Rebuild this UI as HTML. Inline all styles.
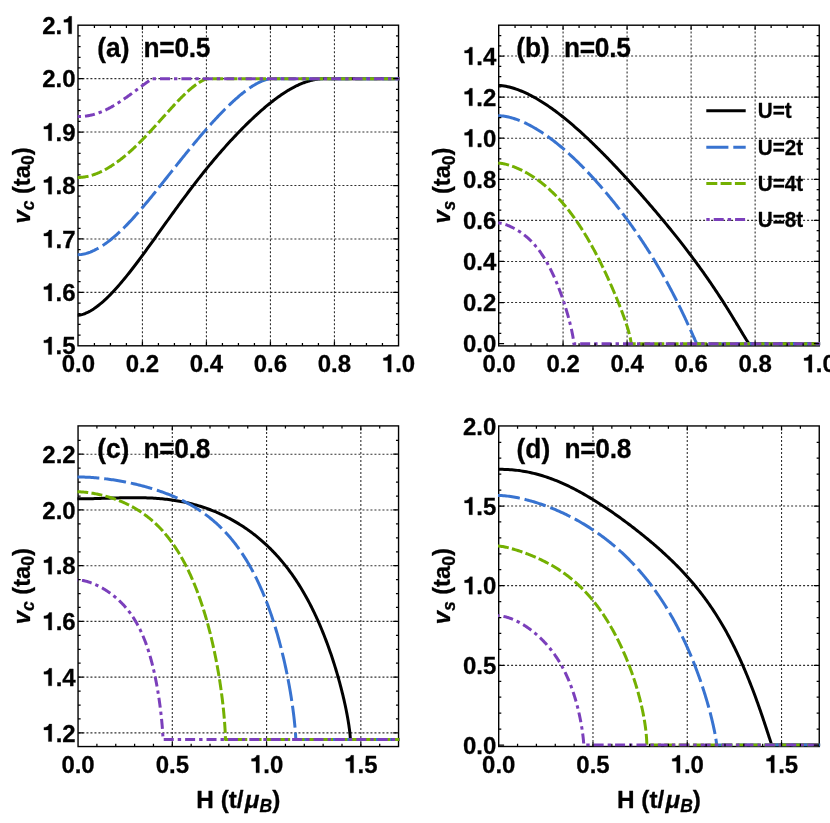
<!DOCTYPE html>
<html><head><meta charset="utf-8"><title>Velocities vs magnetic field</title>
<style>
html,body{margin:0;padding:0;background:#fff;}
body{width:830px;height:823px;overflow:hidden;}
svg{display:block;font-family:"Liberation Sans", sans-serif;fill:#000;}
text,.g1{stroke:#000;stroke-width:0.3px;stroke-linejoin:round;}
</style></head>
<body>
<svg width="830" height="823" viewBox="0 0 830 823">
<rect width="830" height="823" fill="#fff"/>
<g opacity="0.999">
<g>
<path d="M142.43 345.8V25.2M206.43 345.8V25.2M270.44 345.8V25.2M334.44 345.8V25.2" fill="none" stroke="#303030" stroke-width="1.1" stroke-dasharray="2 2" stroke-dashoffset="-0.5"/>
<path d="M78 292.37H398.55M78 238.93H398.55M78 185.5H398.55M78 132.07H398.55M78 78.63H398.55" fill="none" stroke="#303030" stroke-width="1.1" stroke-dasharray="2 2" stroke-dashoffset="-0.4"/>
<rect x="78" y="25.2" width="320.55" height="320.6" fill="none" stroke="#000" stroke-width="1.4"/>
<clipPath id="cpa"><rect x="77.2" y="25.2" width="322.25" height="320.6"/></clipPath>
<g clip-path="url(#cpa)" fill="none" stroke-width="3.0" stroke-linejoin="round">
<path d="M77.62 315.22L78.42 315.22L80.13 315.03L81.84 314.64L83.55 314.12L85.25 313.48L86.94 312.73L88.63 311.89L90.31 310.97L91.99 309.97L93.66 308.89L95.32 307.74L96.99 306.53L98.64 305.25L100.29 303.92L101.94 302.53L103.58 301.09L105.21 299.59L106.84 298.06L108.46 296.48L110.08 294.85L111.69 293.19L113.3 291.5L114.9 289.76L116.5 288L118.09 286.21L119.68 284.38L121.26 282.54L122.83 280.66L124.4 278.77L125.97 276.85L127.53 274.92L129.08 272.97L130.63 271L132.17 269.02L133.71 267.02L135.24 265.02L136.76 263L138.28 260.98L139.8 258.95L141.31 256.92L142.81 254.88L144.31 252.83L145.8 250.79L147.29 248.74L148.77 246.69L150.25 244.65L151.72 242.6L153.19 240.56L154.65 238.53L156.1 236.5L157.55 234.47L159 232.45L160.43 230.44L161.87 228.43L163.29 226.44L164.71 224.45L166.13 222.47L167.54 220.5L168.94 218.55L170.34 216.6L171.74 214.67L173.12 212.75L174.51 210.84L175.88 208.94L177.26 207.06L178.62 205.19L179.98 203.33L181.33 201.49L182.68 199.67L184.03 197.86L185.36 196.06L186.69 194.28L188.02 192.51L189.34 190.76L190.66 189.03L191.96 187.31L193.27 185.61L194.57 183.92L195.86 182.25L197.14 180.59L198.42 178.95L199.7 177.33L200.97 175.72L202.23 174.13L203.49 172.55L204.74 170.99L205.99 169.45L207.23 167.92L208.46 166.41L209.69 164.92L210.91 163.44L212.13 161.97L213.34 160.52L214.55 159.09L215.75 157.67L216.94 156.27L218.13 154.88L219.31 153.51L220.49 152.16L221.66 150.81L222.83 149.49L223.99 148.18L225.14 146.88L226.29 145.6L227.43 144.33L228.56 143.08L229.69 141.84L230.82 140.61L231.94 139.4L233.05 138.21L234.16 137.03L235.26 135.86L236.35 134.7L237.44 133.56L238.52 132.44L239.6 131.32L240.67 130.22L241.73 129.14L242.79 128.06L243.84 127L244.89 125.96L245.93 124.93L246.97 123.91L247.99 122.9L249.02 121.91L250.03 120.93L251.04 119.96L252.05 119L253.05 118.06L254.04 117.13L255.03 116.22L256.01 115.32L256.98 114.43L257.95 113.55L258.91 112.68L259.86 111.83L260.81 110.99L261.76 110.16L262.69 109.35L263.63 108.55L264.55 107.76L265.47 106.98L266.38 106.22L267.29 105.46L268.19 104.73L269.08 104L269.97 103.28L270.85 102.58L271.72 101.89L272.59 101.21L273.46 100.54L274.31 99.89L275.16 99.25L276 98.62L276.84 98L277.67 97.4L278.5 96.8L279.31 96.22L280.13 95.65L280.93 95.09L281.73 94.54L282.52 94.01L283.31 93.49L284.09 92.97L284.86 92.47L285.63 91.98L286.39 91.51L287.14 91.04L287.89 90.58L288.63 90.14L289.36 89.71L290.09 89.28L290.81 88.87L291.52 88.47L292.23 88.08L292.93 87.7L293.63 87.33L294.31 86.97L294.99 86.62L295.67 86.28L296.34 85.95L297 85.64L297.65 85.33L298.3 85.03L298.94 84.73L299.57 84.45L300.2 84.18L300.82 83.92L301.43 83.66L302.04 83.42L302.64 83.18L303.23 82.95L303.82 82.73L304.39 82.52L304.97 82.31L305.53 82.11L306.09 81.92L306.64 81.74L307.18 81.57L307.72 81.4L308.25 81.24L308.77 81.08L309.29 80.94L309.79 80.79L310.29 80.66L310.79 80.53L311.27 80.41L311.75 80.29L312.22 80.18L312.69 80.08L313.15 79.97L313.6 79.88L314.04 79.79L314.47 79.7L314.9 79.62L315.32 79.55L315.73 79.48L316.14 79.41L316.53 79.34L316.92 79.28L317.3 79.23L317.68 79.18L318.04 79.13L318.4 79.08L318.75 79.04L319.09 79L319.43 78.96L319.75 78.93L320.07 78.9L320.38 78.87L320.68 78.84L320.98 78.82L321.26 78.79L321.54 78.77L321.81 78.76L322.07 78.74L322.32 78.73L322.56 78.71L322.8 78.7L323.02 78.69L323.24 78.68L323.45 78.67L323.65 78.67L323.84 78.66L324.02 78.65L324.19 78.65L324.35 78.65L324.5 78.64L324.64 78.64L324.78 78.64L324.9 78.64L325.01 78.64L325.11 78.63L325.2 78.63L325.28 78.63L325.35 78.63L325.4 78.63L325.44 78.63L325.47 78.63L325.48 78.63L399.95 78.63" stroke="#000000"/>
<path d="M77.62 254.68L78.42 254.68L79.76 254.62L81.09 254.48L82.42 254.28L83.75 254.02L85.07 253.72L86.39 253.36L87.7 252.96L89.01 252.52L90.32 252.03L91.62 251.51L92.91 250.94L94.21 250.35L95.5 249.71L96.78 249.04L98.06 248.34L99.34 247.61L100.61 246.84L101.87 246.05L103.14 245.22L104.4 244.37L105.65 243.5L106.9 242.59L108.15 241.66L109.39 240.71L110.63 239.74L111.86 238.74L113.09 237.72L114.32 236.68L115.54 235.62L116.76 234.54L117.97 233.45L119.18 232.33L120.38 231.2L121.58 230.06L122.78 228.89L123.97 227.72L125.16 226.53L126.34 225.33L127.52 224.12L128.69 222.89L129.86 221.65L131.03 220.41L132.19 219.15L133.35 217.89L134.5 216.62L135.65 215.34L136.79 214.05L137.93 212.76L139.07 211.46L140.2 210.15L141.33 208.84L142.45 207.53L143.57 206.21L144.68 204.89L145.79 203.57L146.89 202.24L148 200.92L149.09 199.59L150.18 198.26L151.27 196.93L152.36 195.6L153.44 194.27L154.51 192.95L155.58 191.62L156.65 190.3L157.71 188.97L158.77 187.65L159.82 186.34L160.87 185.02L161.91 183.71L162.95 182.41L163.99 181.1L165.02 179.8L166.04 178.51L167.06 177.22L168.08 175.94L169.1 174.66L170.1 173.39L171.11 172.12L172.11 170.86L173.1 169.6L174.09 168.35L175.08 167.11L176.06 165.88L177.04 164.65L178.01 163.43L178.98 162.21L179.94 161.01L180.9 159.81L181.86 158.62L182.81 157.43L183.75 156.26L184.7 155.09L185.63 153.93L186.57 152.78L187.49 151.64L188.42 150.51L189.34 149.38L190.25 148.27L191.16 147.16L192.06 146.06L192.96 144.97L193.86 143.89L194.75 142.82L195.64 141.76L196.52 140.71L197.4 139.66L198.27 138.63L199.14 137.6L200 136.59L200.86 135.58L201.72 134.58L202.57 133.59L203.41 132.61L204.25 131.64L205.09 130.68L205.92 129.73L206.74 128.79L207.57 127.86L208.38 126.94L209.2 126.03L210 125.12L210.81 124.23L211.61 123.34L212.4 122.47L213.19 121.6L213.97 120.75L214.75 119.9L215.53 119.07L216.3 118.24L217.06 117.42L217.82 116.61L218.58 115.81L219.33 115.03L220.07 114.25L220.81 113.48L221.55 112.71L222.28 111.96L223.01 111.22L223.73 110.49L224.45 109.77L225.16 109.05L225.87 108.35L226.57 107.65L227.27 106.97L227.96 106.29L228.65 105.63L229.33 104.97L230.01 104.32L230.68 103.68L231.35 103.05L232.02 102.43L232.67 101.82L233.33 101.22L233.98 100.63L234.62 100.05L235.26 99.47L235.89 98.91L236.52 98.35L237.14 97.8L237.76 97.27L238.38 96.74L238.98 96.22L239.59 95.71L240.19 95.21L240.78 94.72L241.37 94.23L241.95 93.76L242.53 93.29L243.1 92.84L243.67 92.39L244.23 91.95L244.79 91.52L245.34 91.1L245.89 90.69L246.43 90.28L246.97 89.89L247.5 89.5L248.03 89.12L248.55 88.75L249.06 88.39L249.57 88.04L250.08 87.69L250.58 87.35L251.07 87.02L251.56 86.7L252.05 86.39L252.53 86.09L253 85.79L253.47 85.5L253.93 85.22L254.39 84.95L254.84 84.68L255.28 84.42L255.73 84.17L256.16 83.93L256.59 83.69L257.01 83.46L257.43 83.24L257.85 83.02L258.25 82.81L258.66 82.61L259.05 82.42L259.44 82.23L259.83 82.05L260.21 81.87L260.58 81.7L260.95 81.54L261.31 81.38L261.67 81.23L262.02 81.09L262.37 80.95L262.71 80.81L263.04 80.69L263.37 80.56L263.69 80.45L264 80.33L264.31 80.23L264.62 80.12L264.92 80.03L265.21 79.93L265.49 79.84L265.77 79.76L266.05 79.68L266.31 79.6L266.57 79.53L266.83 79.46L267.08 79.4L267.32 79.34L267.56 79.28L267.78 79.23L268.01 79.18L268.22 79.13L268.43 79.08L268.64 79.04L268.83 79L269.02 78.97L269.21 78.93L269.38 78.9L269.55 78.87L269.71 78.85L269.87 78.82L270.02 78.8L270.16 78.78L270.29 78.76L270.42 78.74L270.54 78.72L270.65 78.71L270.75 78.7L270.85 78.68L270.93 78.67L271.01 78.66L271.08 78.66L271.14 78.65L271.2 78.64L271.24 78.64L271.27 78.64L271.29 78.63L271.3 78.63L399.95 78.63" stroke="#3873d0" stroke-dasharray="22.1 4.9"/>
<path d="M77.62 177.45L78.42 177.45L79.31 177.44L80.2 177.4L81.09 177.34L81.97 177.27L82.86 177.17L83.73 177.06L84.61 176.93L85.48 176.78L86.35 176.62L87.22 176.45L88.09 176.26L88.95 176.05L89.81 175.83L90.67 175.6L91.52 175.35L92.37 175.1L93.22 174.82L94.06 174.54L94.91 174.24L95.75 173.94L96.58 173.62L97.42 173.28L98.25 172.94L99.08 172.59L99.9 172.22L100.73 171.85L101.55 171.46L102.36 171.07L103.18 170.66L103.99 170.25L104.8 169.82L105.61 169.39L106.41 168.94L107.21 168.49L108.01 168.03L108.8 167.56L109.59 167.08L110.38 166.6L111.17 166.11L111.95 165.6L112.73 165.1L113.51 164.58L114.28 164.06L115.06 163.53L115.82 162.99L116.59 162.44L117.35 161.89L118.11 161.34L118.87 160.77L119.63 160.2L120.38 159.63L121.13 159.05L121.87 158.46L122.62 157.87L123.36 157.28L124.09 156.68L124.83 156.07L125.56 155.46L126.29 154.85L127.01 154.23L127.74 153.6L128.46 152.98L129.17 152.35L129.89 151.71L130.6 151.07L131.31 150.43L132.01 149.79L132.71 149.14L133.41 148.49L134.11 147.84L134.8 147.18L135.49 146.53L136.18 145.87L136.86 145.21L137.55 144.54L138.22 143.88L138.9 143.21L139.57 142.54L140.24 141.87L140.91 141.2L141.57 140.53L142.23 139.86L142.89 139.19L143.55 138.51L144.2 137.84L144.85 137.16L145.49 136.49L146.14 135.82L146.78 135.14L147.41 134.47L148.05 133.79L148.68 133.12L149.31 132.45L149.93 131.78L150.55 131.11L151.17 130.44L151.79 129.77L152.4 129.1L153.01 128.44L153.62 127.78L154.22 127.11L154.82 126.45L155.42 125.8L156.01 125.14L156.6 124.49L157.19 123.84L157.78 123.19L158.36 122.54L158.94 121.9L159.52 121.26L160.09 120.62L160.66 119.98L161.22 119.35L161.79 118.72L162.35 118.1L162.91 117.48L163.46 116.86L164.01 116.24L164.56 115.63L165.11 115.02L165.65 114.42L166.19 113.82L166.72 113.23L167.25 112.63L167.78 112.05L168.31 111.46L168.83 110.89L169.35 110.31L169.87 109.74L170.38 109.18L170.89 108.62L171.4 108.06L171.9 107.51L172.41 106.97L172.9 106.43L173.4 105.89L173.89 105.36L174.38 104.83L174.86 104.31L175.34 103.8L175.82 103.29L176.3 102.78L176.77 102.28L177.24 101.79L177.7 101.3L178.16 100.82L178.62 100.34L179.08 99.87L179.53 99.4L179.98 98.94L180.43 98.49L180.87 98.04L181.31 97.6L181.74 97.16L182.18 96.73L182.6 96.3L183.03 95.88L183.45 95.47L183.87 95.06L184.29 94.65L184.7 94.26L185.11 93.87L185.52 93.48L185.92 93.1L186.32 92.73L186.71 92.36L187.11 92L187.49 91.64L187.88 91.29L188.26 90.95L188.64 90.61L189.02 90.28L189.39 89.95L189.76 89.63L190.12 89.31L190.48 89L190.84 88.7L191.2 88.4L191.55 88.11L191.89 87.82L192.24 87.54L192.58 87.27L192.92 86.99L193.25 86.73L193.58 86.47L193.91 86.22L194.23 85.97L194.55 85.72L194.86 85.49L195.18 85.25L195.48 85.03L195.79 84.8L196.09 84.59L196.39 84.37L196.68 84.17L196.97 83.97L197.26 83.77L197.54 83.58L197.82 83.39L198.1 83.2L198.37 83.03L198.64 82.85L198.9 82.68L199.16 82.52L199.42 82.36L199.67 82.2L199.92 82.05L200.17 81.9L200.41 81.76L200.65 81.62L200.88 81.49L201.11 81.36L201.34 81.23L201.56 81.11L201.78 80.99L201.99 80.87L202.2 80.76L202.41 80.65L202.61 80.55L202.81 80.45L203.01 80.35L203.2 80.25L203.38 80.16L203.57 80.07L203.74 79.99L203.92 79.91L204.09 79.83L204.25 79.75L204.42 79.68L204.57 79.61L204.73 79.55L204.87 79.48L205.02 79.42L205.16 79.36L205.29 79.3L205.43 79.25L205.55 79.2L205.67 79.15L205.79 79.1L205.9 79.06L206.01 79.02L206.12 78.98L206.22 78.94L206.31 78.91L206.4 78.87L206.48 78.84L206.56 78.81L206.64 78.79L206.7 78.76L206.77 78.74L206.83 78.72L206.88 78.7L206.93 78.68L206.97 78.67L207 78.66L207.03 78.65L207.05 78.64L207.07 78.64L207.07 78.63L399.95 78.63" stroke="#74b000" stroke-dasharray="11 3.3"/>
<path d="M77.62 116.57L78.42 116.57L78.93 116.57L79.44 116.56L79.95 116.55L80.46 116.53L80.97 116.51L81.47 116.49L81.98 116.46L82.48 116.42L82.98 116.38L83.48 116.34L83.98 116.29L84.47 116.24L84.96 116.18L85.46 116.12L85.95 116.06L86.44 115.99L86.92 115.92L87.41 115.84L87.89 115.76L88.38 115.67L88.86 115.58L89.34 115.49L89.81 115.39L90.29 115.29L90.77 115.19L91.24 115.08L91.71 114.97L92.18 114.85L92.65 114.74L93.11 114.61L93.58 114.49L94.04 114.36L94.5 114.23L94.96 114.09L95.42 113.95L95.88 113.81L96.33 113.67L96.79 113.52L97.24 113.37L97.69 113.21L98.14 113.06L98.58 112.9L99.03 112.73L99.47 112.57L99.91 112.4L100.35 112.23L100.79 112.06L101.23 111.88L101.66 111.71L102.1 111.53L102.53 111.34L102.96 111.16L103.39 110.97L103.82 110.78L104.24 110.59L104.66 110.4L105.09 110.2L105.51 110.01L105.93 109.81L106.34 109.61L106.76 109.4L107.17 109.2L107.58 108.99L107.99 108.79L108.4 108.58L108.81 108.37L109.21 108.16L109.62 107.94L110.02 107.73L110.42 107.51L110.82 107.29L111.22 107.08L111.61 106.86L112 106.63L112.4 106.41L112.79 106.19L113.17 105.97L113.56 105.74L113.94 105.52L114.33 105.29L114.71 105.06L115.09 104.83L115.47 104.6L115.84 104.38L116.22 104.15L116.59 103.92L116.96 103.68L117.33 103.45L117.7 103.22L118.07 102.99L118.43 102.76L118.79 102.52L119.15 102.29L119.51 102.06L119.87 101.82L120.23 101.59L120.58 101.36L120.93 101.12L121.28 100.89L121.63 100.66L121.98 100.42L122.32 100.19L122.67 99.96L123.01 99.72L123.35 99.49L123.68 99.26L124.02 99.03L124.36 98.79L124.69 98.56L125.02 98.33L125.35 98.1L125.68 97.87L126 97.64L126.33 97.41L126.65 97.18L126.97 96.96L127.29 96.73L127.6 96.5L127.92 96.28L128.23 96.05L128.54 95.83L128.85 95.6L129.16 95.38L129.47 95.16L129.77 94.94L130.07 94.72L130.37 94.5L130.67 94.28L130.97 94.06L131.26 93.85L131.56 93.63L131.85 93.42L132.14 93.2L132.43 92.99L132.71 92.78L133 92.57L133.28 92.36L133.56 92.15L133.84 91.95L134.11 91.74L134.39 91.54L134.66 91.34L134.93 91.13L135.2 90.93L135.47 90.73L135.74 90.54L136 90.34L136.26 90.15L136.52 89.95L136.78 89.76L137.04 89.57L137.29 89.38L137.54 89.19L137.79 89.01L138.04 88.82L138.29 88.64L138.53 88.46L138.78 88.28L139.02 88.1L139.25 87.92L139.49 87.74L139.73 87.57L139.96 87.4L140.19 87.22L140.42 87.05L140.65 86.89L140.87 86.72L141.1 86.55L141.32 86.39L141.54 86.23L141.76 86.07L141.97 85.91L142.19 85.75L142.4 85.6L142.61 85.44L142.81 85.29L143.02 85.14L143.22 84.99L143.43 84.84L143.63 84.7L143.82 84.56L144.02 84.41L144.21 84.27L144.4 84.13L144.59 84L144.78 83.86L144.97 83.73L145.15 83.6L145.33 83.46L145.51 83.34L145.69 83.21L145.86 83.08L146.04 82.96L146.21 82.84L146.38 82.72L146.54 82.6L146.71 82.48L146.87 82.37L147.03 82.25L147.19 82.14L147.35 82.03L147.5 81.92L147.65 81.82L147.8 81.71L147.95 81.61L148.1 81.51L148.24 81.41L148.38 81.31L148.52 81.21L148.66 81.12L148.79 81.03L148.92 80.93L149.05 80.84L149.18 80.76L149.31 80.67L149.43 80.59L149.55 80.5L149.67 80.42L149.78 80.34L149.9 80.26L150.01 80.19L150.12 80.11L150.23 80.04L150.33 79.97L150.43 79.9L150.53 79.83L150.63 79.77L150.73 79.7L150.82 79.64L150.91 79.58L151 79.52L151.08 79.47L151.17 79.41L151.25 79.36L151.33 79.31L151.4 79.26L151.47 79.21L151.54 79.16L151.61 79.12L151.68 79.07L151.74 79.03L151.8 78.99L151.85 78.96L151.91 78.92L151.96 78.89L152.01 78.85L152.05 78.83L152.1 78.8L152.14 78.77L152.17 78.75L152.21 78.73L152.24 78.71L152.26 78.69L152.29 78.67L152.31 78.66L152.32 78.65L152.34 78.64L152.34 78.64L152.35 78.63L399.95 78.63" stroke="#7b3fbb" stroke-dasharray="3.4 4 10 4"/>
</g>
<path d="M94.42 345.8v-2.7M94.42 25.2v2.7M110.42 345.8v-2.7M110.42 25.2v2.7M126.42 345.8v-2.7M126.42 25.2v2.7M142.43 345.8v-4.6M142.43 25.2v4.6M158.43 345.8v-2.7M158.43 25.2v2.7M174.43 345.8v-2.7M174.43 25.2v2.7M190.43 345.8v-2.7M190.43 25.2v2.7M206.43 345.8v-4.6M206.43 25.2v4.6M222.43 345.8v-2.7M222.43 25.2v2.7M238.44 345.8v-2.7M238.44 25.2v2.7M254.44 345.8v-2.7M254.44 25.2v2.7M270.44 345.8v-4.6M270.44 25.2v4.6M286.44 345.8v-2.7M286.44 25.2v2.7M302.44 345.8v-2.7M302.44 25.2v2.7M318.44 345.8v-2.7M318.44 25.2v2.7M334.44 345.8v-4.6M334.44 25.2v4.6M350.45 345.8v-2.7M350.45 25.2v2.7M366.45 345.8v-2.7M366.45 25.2v2.7M382.45 345.8v-2.7M382.45 25.2v2.7M78 335.11h2.6M398.55 335.11h-2.6M78 324.43h2.6M398.55 324.43h-2.6M78 313.74h2.6M398.55 313.74h-2.6M78 303.05h2.6M398.55 303.05h-2.6M78 292.37h5.4M398.55 292.37h-5.4M78 281.68h2.6M398.55 281.68h-2.6M78 270.99h2.6M398.55 270.99h-2.6M78 260.31h2.6M398.55 260.31h-2.6M78 249.62h2.6M398.55 249.62h-2.6M78 238.93h5.4M398.55 238.93h-5.4M78 228.25h2.6M398.55 228.25h-2.6M78 217.56h2.6M398.55 217.56h-2.6M78 206.87h2.6M398.55 206.87h-2.6M78 196.19h2.6M398.55 196.19h-2.6M78 185.5h5.4M398.55 185.5h-5.4M78 174.81h2.6M398.55 174.81h-2.6M78 164.13h2.6M398.55 164.13h-2.6M78 153.44h2.6M398.55 153.44h-2.6M78 142.75h2.6M398.55 142.75h-2.6M78 132.07h5.4M398.55 132.07h-5.4M78 121.38h2.6M398.55 121.38h-2.6M78 110.69h2.6M398.55 110.69h-2.6M78 100.01h2.6M398.55 100.01h-2.6M78 89.32h2.6M398.55 89.32h-2.6M78 78.63h5.4M398.55 78.63h-5.4M78 67.95h2.6M398.55 67.95h-2.6M78 57.26h2.6M398.55 57.26h-2.6M78 46.57h2.6M398.55 46.57h-2.6M78 35.89h2.6M398.55 35.89h-2.6" fill="none" stroke="#000" stroke-width="1.25"/>
<g font-size="24" font-weight="bold">
<g transform="translate(78.42 372.1) scale(1 1.03)"><text x="-16.68 -3.34 3.34" y="0">0.0</text></g>
<g transform="translate(142.43 372.1) scale(1 1.03)"><text x="-16.68 -3.34 3.34" y="0">0.2</text></g>
<g transform="translate(206.43 372.1) scale(1 1.03)"><text x="-16.68 -3.34 3.34" y="0">0.4</text></g>
<g transform="translate(270.44 372.1) scale(1 1.03)"><text x="-16.68 -3.34 3.34" y="0">0.6</text></g>
<g transform="translate(334.44 372.1) scale(1 1.03)"><text x="-16.68 -3.34 3.34" y="0">0.8</text></g>
<g transform="translate(398.45 372.1) scale(1 1.03)"><text x="-3.34 3.34" y="0">.0</text><path class="g1" vector-effect="non-scaling-stroke" transform="translate(-16.68 0) scale(24)" d="M.394 0H.254V-.471H.068V-.573C.17-.575.266-.61.285-.709H.394Z"/></g>
<g transform="translate(75.6 354.45) scale(1 1.03)"><text x="-20.02 -13.34" y="0">.5</text><path class="g1" vector-effect="non-scaling-stroke" transform="translate(-33.36 0) scale(24)" d="M.394 0H.254V-.471H.068V-.573C.17-.575.266-.61.285-.709H.394Z"/></g>
<g transform="translate(75.6 301.02) scale(1 1.03)"><text x="-20.02 -13.34" y="0">.6</text><path class="g1" vector-effect="non-scaling-stroke" transform="translate(-33.36 0) scale(24)" d="M.394 0H.254V-.471H.068V-.573C.17-.575.266-.61.285-.709H.394Z"/></g>
<g transform="translate(75.6 247.58) scale(1 1.03)"><text x="-20.02 -13.34" y="0">.7</text><path class="g1" vector-effect="non-scaling-stroke" transform="translate(-33.36 0) scale(24)" d="M.394 0H.254V-.471H.068V-.573C.17-.575.266-.61.285-.709H.394Z"/></g>
<g transform="translate(75.6 194.15) scale(1 1.03)"><text x="-20.02 -13.34" y="0">.8</text><path class="g1" vector-effect="non-scaling-stroke" transform="translate(-33.36 0) scale(24)" d="M.394 0H.254V-.471H.068V-.573C.17-.575.266-.61.285-.709H.394Z"/></g>
<g transform="translate(75.6 140.72) scale(1 1.03)"><text x="-20.02 -13.34" y="0">.9</text><path class="g1" vector-effect="non-scaling-stroke" transform="translate(-33.36 0) scale(24)" d="M.394 0H.254V-.471H.068V-.573C.17-.575.266-.61.285-.709H.394Z"/></g>
<g transform="translate(75.6 87.28) scale(1 1.03)"><text x="-33.36 -20.02 -13.34" y="0">2.0</text></g>
<g transform="translate(75.6 33.85) scale(1 1.03)"><text x="-33.36 -20.02" y="0">2.</text><path class="g1" vector-effect="non-scaling-stroke" transform="translate(-13.34 0) scale(24)" d="M.394 0H.254V-.471H.068V-.573C.17-.575.266-.61.285-.709H.394Z"/></g>
</g>
<g font-size="26.3" font-weight="bold">
<text transform="translate(97.3 57.45) scale(1 1.03)">(a)</text>
<text transform="translate(143.6 57.45) scale(1 1.03)" letter-spacing="-0.3">n=0.5</text>
</g>
<text transform="translate(29.5 185.5) rotate(-90) scale(1 1.02)" text-anchor="middle" font-size="23.7" font-weight="bold"><tspan font-style="italic">v</tspan><tspan font-style="italic" font-size="17.5" dy="4.4">c</tspan><tspan dy="-4.4"> (ta</tspan><tspan font-size="17.5" dy="4.4">0</tspan><tspan dy="-4.4">)</tspan></text>
</g>
<g>
<path d="M563.07 345.9V25.2M627.09 345.9V25.2M691.11 345.9V25.2M755.13 345.9V25.2" fill="none" stroke="#303030" stroke-width="1.1" stroke-dasharray="2 2" stroke-dashoffset="-0.5"/>
<path d="M498.7 302.56H819.25M498.7 261.48H819.25M498.7 220.39H819.25M498.7 179.31H819.25M498.7 138.22H819.25M498.7 97.14H819.25M498.7 56.05H819.25" fill="none" stroke="#303030" stroke-width="1.1" stroke-dasharray="2 2" stroke-dashoffset="-0.4"/>
<rect x="498.7" y="25.2" width="320.55" height="320.7" fill="none" stroke="#000" stroke-width="1.4"/>
<clipPath id="cpb"><rect x="497.9" y="25.2" width="322.25" height="320.7"/></clipPath>
<g clip-path="url(#cpb)" fill="none" stroke-width="3.0" stroke-linejoin="round">
<path d="M498.25 85.53L499.05 85.53L500.78 85.61L502.51 85.78L504.24 86.02L505.96 86.32L507.67 86.67L509.38 87.07L511.08 87.52L512.78 88L514.47 88.53L516.16 89.09L517.84 89.69L519.51 90.33L521.18 91L522.85 91.7L524.51 92.43L526.16 93.19L527.81 93.97L529.45 94.79L531.09 95.63L532.72 96.5L534.35 97.39L535.97 98.3L537.59 99.24L539.2 100.2L540.8 101.18L542.4 102.18L544 103.2L545.58 104.24L547.17 105.29L548.75 106.37L550.32 107.46L551.88 108.57L553.44 109.69L555 110.83L556.55 111.98L558.09 113.15L559.63 114.33L561.17 115.52L562.69 116.73L564.22 117.95L565.73 119.18L567.24 120.42L568.75 121.67L570.25 122.93L571.74 124.2L573.23 125.48L574.72 126.77L576.19 128.06L577.67 129.37L579.13 130.68L580.59 131.99L582.05 133.32L583.5 134.65L584.94 135.99L586.38 137.33L587.81 138.68L589.24 140.03L590.66 141.38L592.08 142.75L593.49 144.11L594.89 145.48L596.29 146.85L597.68 148.22L599.07 149.6L600.45 150.98L601.83 152.36L603.2 153.75L604.57 155.13L605.92 156.52L607.28 157.91L608.63 159.3L609.97 160.69L611.3 162.08L612.63 163.47L613.96 164.86L615.28 166.25L616.59 167.64L617.9 169.03L619.2 170.42L620.5 171.81L621.79 173.2L623.07 174.59L624.35 175.97L625.62 177.36L626.89 178.74L628.15 180.12L629.4 181.51L630.65 182.88L631.9 184.26L633.14 185.64L634.37 187.01L635.59 188.38L636.81 189.75L638.03 191.12L639.24 192.48L640.44 193.85L641.64 195.21L642.83 196.56L644.01 197.92L645.19 199.27L646.36 200.62L647.53 201.97L648.69 203.31L649.85 204.65L651 205.99L652.14 207.32L653.28 208.66L654.41 209.99L655.54 211.31L656.66 212.64L657.77 213.96L658.88 215.27L659.98 216.59L661.07 217.9L662.16 219.21L663.25 220.51L664.32 221.81L665.4 223.11L666.46 224.41L667.52 225.7L668.57 226.99L669.62 228.27L670.66 229.55L671.7 230.83L672.72 232.11L673.75 233.38L674.76 234.65L675.77 235.92L676.78 237.18L677.78 238.44L678.77 239.69L679.75 240.95L680.73 242.19L681.71 243.44L682.67 244.68L683.63 245.92L684.59 247.16L685.54 248.39L686.48 249.62L687.42 250.84L688.34 252.06L689.27 253.28L690.19 254.49L691.1 255.7L692 256.91L692.9 258.11L693.79 259.31L694.68 260.51L695.55 261.7L696.43 262.89L697.29 264.07L698.15 265.25L699.01 266.43L699.85 267.6L700.69 268.76L701.53 269.93L702.36 271.09L703.18 272.24L703.99 273.39L704.8 274.53L705.6 275.68L706.4 276.81L707.19 277.94L707.97 279.07L708.75 280.19L709.51 281.31L710.28 282.42L711.03 283.53L711.78 284.63L712.52 285.72L713.26 286.81L713.99 287.9L714.71 288.98L715.43 290.05L716.14 291.12L716.84 292.18L717.54 293.23L718.23 294.28L718.91 295.32L719.58 296.36L720.25 297.38L720.91 298.41L721.57 299.42L722.22 300.43L722.86 301.43L723.49 302.42L724.12 303.41L724.74 304.39L725.35 305.36L725.96 306.32L726.56 307.27L727.15 308.22L727.74 309.15L728.32 310.08L728.89 311L729.45 311.91L730.01 312.81L730.56 313.7L731.1 314.59L731.64 315.46L732.17 316.32L732.69 317.17L733.2 318.02L733.71 318.85L734.21 319.67L734.7 320.48L735.19 321.28L735.66 322.07L736.13 322.85L736.59 323.61L737.05 324.37L737.5 325.11L737.94 325.84L738.37 326.56L738.79 327.27L739.21 327.96L739.62 328.64L740.02 329.31L740.42 329.96L740.8 330.61L741.18 331.24L741.55 331.85L741.91 332.45L742.27 333.04L742.61 333.61L742.95 334.17L743.28 334.72L743.6 335.25L743.92 335.76L744.22 336.26L744.52 336.75L744.81 337.22L745.09 337.67L745.36 338.11L745.63 338.53L745.88 338.94L746.13 339.33L746.36 339.71L746.59 340.07L746.81 340.41L747.02 340.74L747.22 341.04L747.41 341.34L747.6 341.61L747.77 341.87L747.93 342.11L748.09 342.34L748.23 342.55L748.37 342.74L748.49 342.91L748.6 343.06L748.7 343.2L748.8 343.32L748.87 343.42L748.94 343.5L749 343.57L749.04 343.61L749.07 343.64L749.08 343.65L820.65 343.65" stroke="#000000"/>
<path d="M498.25 115.78L499.05 115.78L500.42 115.83L501.79 115.94L503.15 116.09L504.51 116.28L505.87 116.51L507.22 116.77L508.56 117.07L509.91 117.4L511.25 117.75L512.58 118.13L513.91 118.54L515.23 118.97L516.55 119.43L517.87 119.9L519.18 120.41L520.49 120.93L521.79 121.47L523.09 122.04L524.39 122.62L525.68 123.23L526.97 123.85L528.25 124.49L529.53 125.14L530.8 125.82L532.07 126.51L533.33 127.22L534.59 127.94L535.85 128.67L537.1 129.43L538.35 130.19L539.59 130.97L540.83 131.77L542.07 132.57L543.3 133.39L544.52 134.22L545.74 135.07L546.96 135.92L548.17 136.79L549.38 137.67L550.58 138.56L551.78 139.45L552.98 140.36L554.17 141.28L555.36 142.21L556.54 143.15L557.71 144.1L558.89 145.05L560.06 146.02L561.22 146.99L562.38 147.97L563.53 148.96L564.69 149.96L565.83 150.96L566.97 151.97L568.11 152.99L569.24 154.01L570.37 155.04L571.5 156.08L572.62 157.12L573.73 158.17L574.84 159.22L575.95 160.28L577.05 161.35L578.15 162.42L579.24 163.5L580.33 164.58L581.41 165.66L582.49 166.75L583.57 167.84L584.64 168.94L585.7 170.04L586.76 171.15L587.82 172.26L588.87 173.37L589.92 174.49L590.96 175.6L592 176.73L593.04 177.85L594.07 178.98L595.09 180.11L596.11 181.25L597.13 182.39L598.14 183.52L599.14 184.67L600.15 185.81L601.14 186.96L602.14 188.11L603.12 189.26L604.11 190.41L605.09 191.56L606.06 192.72L607.03 193.88L608 195.04L608.96 196.2L609.91 197.36L610.86 198.52L611.81 199.69L612.75 200.85L613.69 202.02L614.62 203.19L615.55 204.36L616.47 205.53L617.39 206.7L618.3 207.87L619.21 209.04L620.12 210.22L621.02 211.39L621.91 212.57L622.8 213.74L623.69 214.92L624.57 216.09L625.44 217.27L626.31 218.44L627.18 219.62L628.04 220.8L628.9 221.97L629.75 223.15L630.6 224.33L631.44 225.5L632.28 226.68L633.11 227.86L633.94 229.03L634.76 230.21L635.58 231.38L636.39 232.56L637.2 233.73L638.01 234.91L638.8 236.08L639.6 237.25L640.39 238.42L641.17 239.6L641.95 240.77L642.73 241.94L643.5 243.1L644.26 244.27L645.02 245.44L645.78 246.6L646.53 247.77L647.27 248.93L648.01 250.09L648.75 251.25L649.48 252.41L650.2 253.57L650.92 254.72L651.64 255.88L652.35 257.03L653.05 258.18L653.75 259.33L654.45 260.47L655.14 261.62L655.82 262.76L656.5 263.9L657.18 265.04L657.85 266.17L658.51 267.3L659.17 268.43L659.83 269.56L660.48 270.68L661.12 271.8L661.76 272.92L662.39 274.03L663.02 275.15L663.65 276.25L664.27 277.36L664.88 278.46L665.49 279.55L666.09 280.65L666.69 281.74L667.28 282.82L667.87 283.9L668.45 284.98L669.03 286.05L669.6 287.12L670.16 288.18L670.72 289.24L671.28 290.29L671.83 291.34L672.38 292.38L672.91 293.42L673.45 294.45L673.98 295.47L674.5 296.49L675.02 297.51L675.53 298.51L676.04 299.51L676.54 300.51L677.04 301.5L677.53 302.48L678.01 303.45L678.49 304.42L678.97 305.38L679.44 306.33L679.9 307.28L680.36 308.21L680.81 309.14L681.25 310.06L681.69 310.98L682.13 311.88L682.56 312.78L682.98 313.66L683.4 314.54L683.81 315.41L684.22 316.27L684.62 317.12L685.02 317.96L685.4 318.79L685.79 319.61L686.16 320.42L686.54 321.22L686.9 322.01L687.26 322.79L687.62 323.56L687.96 324.31L688.31 325.06L688.64 325.79L688.97 326.51L689.29 327.22L689.61 327.92L689.92 328.61L690.23 329.28L690.53 329.94L690.82 330.59L691.11 331.22L691.39 331.84L691.66 332.45L691.93 333.05L692.19 333.63L692.44 334.19L692.69 334.75L692.93 335.28L693.17 335.81L693.4 336.31L693.62 336.81L693.84 337.29L694.04 337.75L694.25 338.2L694.44 338.63L694.63 339.04L694.81 339.44L694.98 339.83L695.15 340.19L695.31 340.54L695.46 340.87L695.6 341.19L695.74 341.49L695.87 341.77L695.99 342.03L696.1 342.27L696.21 342.5L696.31 342.71L696.4 342.89L696.48 343.06L696.55 343.21L696.61 343.34L696.67 343.44L696.71 343.53L696.74 343.59L696.77 343.63L696.78 343.65L820.65 343.65" stroke="#3873d0" stroke-dasharray="22.1 4.9"/>
<path d="M498.25 163.19L499.05 163.19L499.97 163.24L500.88 163.33L501.79 163.45L502.7 163.6L503.6 163.77L504.5 163.95L505.4 164.16L506.3 164.38L507.19 164.61L508.08 164.86L508.97 165.13L509.86 165.4L510.74 165.69L511.62 165.99L512.49 166.3L513.37 166.62L514.24 166.95L515.11 167.3L515.97 167.65L516.83 168.01L517.69 168.38L518.55 168.76L519.4 169.15L520.25 169.55L521.1 169.95L521.94 170.37L522.79 170.79L523.63 171.22L524.46 171.66L525.29 172.11L526.12 172.57L526.95 173.03L527.78 173.5L528.6 173.98L529.42 174.47L530.23 174.96L531.04 175.46L531.85 175.97L532.66 176.49L533.46 177.01L534.27 177.54L535.06 178.08L535.86 178.63L536.65 179.18L537.44 179.74L538.23 180.31L539.01 180.88L539.79 181.47L540.57 182.05L541.34 182.65L542.11 183.25L542.88 183.86L543.65 184.48L544.41 185.1L545.17 185.73L545.93 186.37L546.68 187.02L547.43 187.67L548.18 188.33L548.92 188.99L549.66 189.66L550.4 190.34L551.14 191.03L551.87 191.72L552.6 192.42L553.33 193.12L554.05 193.83L554.77 194.55L555.49 195.27L556.21 196L556.92 196.74L557.63 197.49L558.33 198.24L559.03 198.99L559.73 199.75L560.43 200.52L561.12 201.3L561.81 202.08L562.5 202.86L563.19 203.65L563.87 204.45L564.55 205.26L565.22 206.06L565.89 206.88L566.56 207.7L567.23 208.53L567.89 209.36L568.55 210.19L569.21 211.04L569.86 211.88L570.51 212.74L571.16 213.59L571.8 214.46L572.44 215.32L573.08 216.19L573.72 217.07L574.35 217.95L574.98 218.84L575.6 219.73L576.23 220.62L576.85 221.52L577.46 222.42L578.08 223.33L578.69 224.24L579.29 225.15L579.9 226.07L580.5 226.99L581.1 227.91L581.69 228.84L582.28 229.77L582.87 230.71L583.45 231.64L584.04 232.58L584.61 233.52L585.19 234.47L585.76 235.42L586.33 236.37L586.9 237.32L587.46 238.27L588.02 239.23L588.58 240.19L589.13 241.15L589.68 242.11L590.22 243.07L590.77 244.04L591.31 245L591.84 245.97L592.38 246.94L592.91 247.91L593.44 248.88L593.96 249.85L594.48 250.82L595 251.79L595.51 252.76L596.02 253.73L596.53 254.7L597.03 255.67L597.53 256.64L598.03 257.61L598.53 258.58L599.02 259.55L599.5 260.52L599.99 261.49L600.47 262.45L600.95 263.42L601.42 264.38L601.89 265.35L602.36 266.31L602.82 267.27L603.29 268.22L603.74 269.18L604.2 270.13L604.65 271.08L605.09 272.03L605.54 272.98L605.98 273.92L606.42 274.86L606.85 275.8L607.28 276.74L607.71 277.67L608.13 278.6L608.55 279.53L608.97 280.45L609.38 281.37L609.79 282.29L610.2 283.2L610.6 284.11L611 285.02L611.39 285.92L611.79 286.82L612.17 287.71L612.56 288.6L612.94 289.49L613.32 290.37L613.69 291.25L614.07 292.12L614.43 292.99L614.8 293.85L615.16 294.71L615.51 295.56L615.87 296.41L616.22 297.26L616.56 298.1L616.9 298.93L617.24 299.76L617.58 300.58L617.91 301.4L618.24 302.22L618.56 303.02L618.88 303.83L619.2 304.62L619.51 305.41L619.82 306.2L620.13 306.98L620.43 307.75L620.73 308.52L621.02 309.29L621.31 310.04L621.6 310.8L621.88 311.54L622.16 312.28L622.43 313.01L622.71 313.74L622.97 314.46L623.24 315.18L623.5 315.89L623.75 316.59L624.01 317.29L624.25 317.98L624.5 318.67L624.74 319.35L624.97 320.02L625.21 320.69L625.43 321.35L625.66 322L625.88 322.65L626.1 323.29L626.31 323.93L626.52 324.55L626.72 325.18L626.92 325.79L627.11 326.4L627.31 327.01L627.49 327.61L627.68 328.2L627.85 328.78L628.03 329.36L628.2 329.93L628.36 330.5L628.53 331.06L628.68 331.61L628.84 332.15L628.98 332.69L629.13 333.22L629.27 333.75L629.4 334.27L629.53 334.78L629.66 335.28L629.78 335.78L629.89 336.27L630 336.75L630.11 337.23L630.21 337.7L630.31 338.16L630.4 338.61L630.49 339.05L630.57 339.49L630.64 339.91L630.71 340.33L630.78 340.73L630.84 341.13L630.89 341.51L630.94 341.88L630.98 342.24L631.02 342.57L631.05 342.89L631.07 343.19L631.09 343.45L631.09 343.65L820.65 343.65" stroke="#74b000" stroke-dasharray="11 3.3"/>
<path d="M498.25 223.03L499.05 223.03L499.57 223.07L500.09 223.13L500.6 223.21L501.11 223.31L501.63 223.41L502.14 223.53L502.65 223.66L503.15 223.8L503.66 223.95L504.16 224.1L504.67 224.26L505.17 224.43L505.67 224.6L506.16 224.78L506.66 224.96L507.15 225.15L507.65 225.34L508.14 225.54L508.63 225.74L509.12 225.95L509.6 226.16L510.09 226.38L510.57 226.6L511.05 226.82L511.53 227.05L512.01 227.28L512.49 227.52L512.96 227.76L513.43 228L513.91 228.25L514.38 228.5L514.84 228.75L515.31 229.01L515.78 229.28L516.24 229.54L516.7 229.81L517.16 230.09L517.62 230.36L518.08 230.65L518.53 230.93L518.98 231.22L519.44 231.51L519.89 231.81L520.33 232.11L520.78 232.41L521.23 232.72L521.67 233.04L522.11 233.35L522.55 233.67L522.99 234L523.43 234.32L523.86 234.66L524.29 234.99L524.73 235.33L525.16 235.68L525.58 236.03L526.01 236.38L526.44 236.74L526.86 237.1L527.28 237.46L527.7 237.83L528.12 238.21L528.54 238.59L528.95 238.97L529.36 239.36L529.77 239.75L530.18 240.14L530.59 240.54L531 240.95L531.4 241.36L531.81 241.77L532.21 242.19L532.61 242.61L533 243.04L533.4 243.47L533.79 243.9L534.19 244.34L534.58 244.79L534.97 245.23L535.35 245.69L535.74 246.14L536.12 246.61L536.51 247.07L536.89 247.54L537.27 248.02L537.64 248.5L538.02 248.98L538.39 249.47L538.76 249.96L539.13 250.45L539.5 250.95L539.87 251.46L540.23 251.97L540.6 252.48L540.96 253L541.32 253.52L541.67 254.04L542.03 254.57L542.38 255.1L542.74 255.64L543.09 256.18L543.44 256.72L543.78 257.27L544.13 257.82L544.47 258.38L544.81 258.94L545.15 259.5L545.49 260.07L545.83 260.64L546.16 261.21L546.5 261.79L546.83 262.37L547.16 262.95L547.48 263.54L547.81 264.13L548.13 264.72L548.46 265.31L548.78 265.91L549.1 266.51L549.41 267.12L549.73 267.72L550.04 268.33L550.35 268.94L550.66 269.56L550.97 270.18L551.27 270.8L551.58 271.42L551.88 272.04L552.18 272.67L552.48 273.3L552.77 273.93L553.07 274.56L553.36 275.19L553.65 275.83L553.94 276.47L554.23 277.11L554.51 277.75L554.8 278.39L555.08 279.03L555.36 279.68L555.64 280.33L555.91 280.97L556.19 281.62L556.46 282.27L556.73 282.92L557 283.57L557.27 284.23L557.53 284.88L557.79 285.53L558.05 286.19L558.31 286.84L558.57 287.5L558.82 288.15L559.08 288.81L559.33 289.46L559.58 290.12L559.83 290.77L560.07 291.43L560.32 292.08L560.56 292.74L560.8 293.39L561.03 294.05L561.27 294.7L561.5 295.36L561.74 296.01L561.97 296.66L562.19 297.31L562.42 297.96L562.64 298.61L562.87 299.26L563.09 299.9L563.3 300.55L563.52 301.19L563.73 301.84L563.95 302.48L564.16 303.12L564.36 303.76L564.57 304.39L564.77 305.03L564.98 305.66L565.18 306.29L565.37 306.92L565.57 307.55L565.76 308.18L565.95 308.8L566.14 309.42L566.33 310.04L566.52 310.66L566.7 311.27L566.88 311.88L567.06 312.49L567.24 313.1L567.41 313.7L567.59 314.3L567.76 314.9L567.93 315.5L568.09 316.09L568.26 316.68L568.42 317.27L568.58 317.85L568.74 318.43L568.89 319.01L569.05 319.58L569.2 320.15L569.35 320.72L569.49 321.29L569.64 321.85L569.78 322.4L569.92 322.96L570.06 323.51L570.2 324.05L570.33 324.59L570.46 325.13L570.59 325.67L570.72 326.2L570.84 326.72L570.97 327.24L571.09 327.76L571.2 328.27L571.32 328.78L571.43 329.29L571.54 329.79L571.65 330.28L571.76 330.77L571.86 331.26L571.96 331.74L572.06 332.22L572.16 332.69L572.25 333.16L572.34 333.62L572.43 334.07L572.52 334.52L572.6 334.97L572.68 335.41L572.76 335.84L572.84 336.27L572.91 336.69L572.98 337.1L573.05 337.51L573.12 337.92L573.18 338.31L573.24 338.7L573.3 339.08L573.35 339.45L573.4 339.82L573.45 340.17L573.5 340.52L573.54 340.86L573.58 341.19L573.62 341.51L573.65 341.82L573.68 342.11L573.71 342.39L573.73 342.66L573.75 342.91L573.77 343.15L573.78 343.35L573.79 343.53L573.79 343.65L820.65 343.65" stroke="#7b3fbb" stroke-dasharray="3.4 4 10 4"/>
</g>
<path d="M515.06 345.9v-2.7M515.06 25.2v2.7M531.06 345.9v-2.7M531.06 25.2v2.7M547.07 345.9v-2.7M547.07 25.2v2.7M563.07 345.9v-4.6M563.07 25.2v4.6M579.08 345.9v-2.7M579.08 25.2v2.7M595.08 345.9v-2.7M595.08 25.2v2.7M611.09 345.9v-2.7M611.09 25.2v2.7M627.09 345.9v-4.6M627.09 25.2v4.6M643.1 345.9v-2.7M643.1 25.2v2.7M659.1 345.9v-2.7M659.1 25.2v2.7M675.11 345.9v-2.7M675.11 25.2v2.7M691.11 345.9v-4.6M691.11 25.2v4.6M707.12 345.9v-2.7M707.12 25.2v2.7M723.12 345.9v-2.7M723.12 25.2v2.7M739.12 345.9v-2.7M739.12 25.2v2.7M755.13 345.9v-4.6M755.13 25.2v4.6M771.13 345.9v-2.7M771.13 25.2v2.7M787.14 345.9v-2.7M787.14 25.2v2.7M803.14 345.9v-2.7M803.14 25.2v2.7M498.7 343.65h5.4M819.25 343.65h-5.4M498.7 333.38h2.6M819.25 333.38h-2.6M498.7 323.11h2.6M819.25 323.11h-2.6M498.7 312.84h2.6M819.25 312.84h-2.6M498.7 302.56h5.4M819.25 302.56h-5.4M498.7 292.29h2.6M819.25 292.29h-2.6M498.7 282.02h2.6M819.25 282.02h-2.6M498.7 271.75h2.6M819.25 271.75h-2.6M498.7 261.48h5.4M819.25 261.48h-5.4M498.7 251.21h2.6M819.25 251.21h-2.6M498.7 240.94h2.6M819.25 240.94h-2.6M498.7 230.66h2.6M819.25 230.66h-2.6M498.7 220.39h5.4M819.25 220.39h-5.4M498.7 210.12h2.6M819.25 210.12h-2.6M498.7 199.85h2.6M819.25 199.85h-2.6M498.7 189.58h2.6M819.25 189.58h-2.6M498.7 179.31h5.4M819.25 179.31h-5.4M498.7 169.04h2.6M819.25 169.04h-2.6M498.7 158.76h2.6M819.25 158.76h-2.6M498.7 148.49h2.6M819.25 148.49h-2.6M498.7 138.22h5.4M819.25 138.22h-5.4M498.7 127.95h2.6M819.25 127.95h-2.6M498.7 117.68h2.6M819.25 117.68h-2.6M498.7 107.41h2.6M819.25 107.41h-2.6M498.7 97.14h5.4M819.25 97.14h-5.4M498.7 86.86h2.6M819.25 86.86h-2.6M498.7 76.59h2.6M819.25 76.59h-2.6M498.7 66.32h2.6M819.25 66.32h-2.6M498.7 56.05h5.4M819.25 56.05h-5.4M498.7 45.78h2.6M819.25 45.78h-2.6M498.7 35.51h2.6M819.25 35.51h-2.6" fill="none" stroke="#000" stroke-width="1.25"/>
<g font-size="24" font-weight="bold">
<g transform="translate(499.05 372.2) scale(1 1.03)"><text x="-16.68 -3.34 3.34" y="0">0.0</text></g>
<g transform="translate(563.07 372.2) scale(1 1.03)"><text x="-16.68 -3.34 3.34" y="0">0.2</text></g>
<g transform="translate(627.09 372.2) scale(1 1.03)"><text x="-16.68 -3.34 3.34" y="0">0.4</text></g>
<g transform="translate(691.11 372.2) scale(1 1.03)"><text x="-16.68 -3.34 3.34" y="0">0.6</text></g>
<g transform="translate(755.13 372.2) scale(1 1.03)"><text x="-16.68 -3.34 3.34" y="0">0.8</text></g>
<g transform="translate(819.15 372.2) scale(1 1.03)"><text x="-3.34 3.34" y="0">.0</text><path class="g1" vector-effect="non-scaling-stroke" transform="translate(-16.68 0) scale(24)" d="M.394 0H.254V-.471H.068V-.573C.17-.575.266-.61.285-.709H.394Z"/></g>
<g transform="translate(496.3 352.3) scale(1 1.03)"><text x="-33.36 -20.02 -13.34" y="0">0.0</text></g>
<g transform="translate(496.3 311.21) scale(1 1.03)"><text x="-33.36 -20.02 -13.34" y="0">0.2</text></g>
<g transform="translate(496.3 270.13) scale(1 1.03)"><text x="-33.36 -20.02 -13.34" y="0">0.4</text></g>
<g transform="translate(496.3 229.04) scale(1 1.03)"><text x="-33.36 -20.02 -13.34" y="0">0.6</text></g>
<g transform="translate(496.3 187.96) scale(1 1.03)"><text x="-33.36 -20.02 -13.34" y="0">0.8</text></g>
<g transform="translate(496.3 146.87) scale(1 1.03)"><text x="-20.02 -13.34" y="0">.0</text><path class="g1" vector-effect="non-scaling-stroke" transform="translate(-33.36 0) scale(24)" d="M.394 0H.254V-.471H.068V-.573C.17-.575.266-.61.285-.709H.394Z"/></g>
<g transform="translate(496.3 105.79) scale(1 1.03)"><text x="-20.02 -13.34" y="0">.2</text><path class="g1" vector-effect="non-scaling-stroke" transform="translate(-33.36 0) scale(24)" d="M.394 0H.254V-.471H.068V-.573C.17-.575.266-.61.285-.709H.394Z"/></g>
<g transform="translate(496.3 64.7) scale(1 1.03)"><text x="-20.02 -13.34" y="0">.4</text><path class="g1" vector-effect="non-scaling-stroke" transform="translate(-33.36 0) scale(24)" d="M.394 0H.254V-.471H.068V-.573C.17-.575.266-.61.285-.709H.394Z"/></g>
</g>
<g font-size="26.3" font-weight="bold">
<text transform="translate(516.3 57.45) scale(1 1.03)">(b)</text>
<text transform="translate(564 57.45) scale(1 1.03)" letter-spacing="-0.3">n=0.5</text>
</g>
<text transform="translate(450.2 185.55) rotate(-90) scale(1 1.02)" text-anchor="middle" font-size="23.7" font-weight="bold"><tspan font-style="italic">v</tspan><tspan font-style="italic" font-size="17.5" dy="4.4">s</tspan><tspan dy="-4.4"> (ta</tspan><tspan font-size="17.5" dy="4.4">0</tspan><tspan dy="-4.4">)</tspan></text>
</g>
<g>
<path d="M172.31 746.55V425.9M266.58 746.55V425.9M360.84 746.55V425.9" fill="none" stroke="#303030" stroke-width="1.1" stroke-dasharray="2 2" stroke-dashoffset="-0.5"/>
<path d="M78.05 732.9H398.55M78.05 677.16H398.55M78.05 621.42H398.55M78.05 565.68H398.55M78.05 509.94H398.55M78.05 454.2H398.55" fill="none" stroke="#303030" stroke-width="1.1" stroke-dasharray="2 2" stroke-dashoffset="-0.4"/>
<rect x="78.05" y="425.9" width="320.5" height="320.65" fill="none" stroke="#000" stroke-width="1.4"/>
<clipPath id="cpc"><rect x="77.25" y="425.9" width="322.2" height="320.65"/></clipPath>
<g clip-path="url(#cpc)" fill="none" stroke-width="3.0" stroke-linejoin="round">
<path d="M77.25 498.85L78.05 498.85L79.94 498.85L81.82 498.83L83.7 498.81L85.57 498.79L87.44 498.75L89.3 498.72L91.15 498.67L93 498.63L94.85 498.58L96.68 498.53L98.51 498.48L100.34 498.42L102.16 498.36L103.97 498.31L105.78 498.25L107.58 498.19L109.37 498.14L111.16 498.08L112.95 498.03L114.73 497.98L116.5 497.93L118.26 497.88L120.02 497.84L121.78 497.8L123.52 497.77L125.27 497.73L127 497.71L128.73 497.69L130.46 497.67L132.17 497.66L133.89 497.66L135.59 497.66L137.29 497.67L138.99 497.69L140.67 497.71L142.36 497.75L144.03 497.79L145.7 497.84L147.37 497.89L149.02 497.96L150.68 498.03L152.32 498.12L153.96 498.21L155.59 498.32L157.22 498.43L158.84 498.56L160.46 498.69L162.07 498.84L163.67 498.99L165.27 499.16L166.86 499.34L168.44 499.53L170.02 499.73L171.6 499.94L173.16 500.17L174.72 500.41L176.28 500.65L177.83 500.91L179.37 501.19L180.9 501.47L182.43 501.77L183.96 502.08L185.47 502.4L186.99 502.73L188.49 503.08L189.99 503.43L191.48 503.8L192.97 504.19L194.45 504.58L195.92 504.99L197.39 505.41L198.85 505.84L200.31 506.29L201.76 506.75L203.2 507.21L204.64 507.7L206.07 508.19L207.49 508.7L208.91 509.22L210.32 509.75L211.72 510.29L213.12 510.84L214.51 511.41L215.9 511.99L217.28 512.58L218.65 513.18L220.02 513.8L221.38 514.43L222.74 515.06L224.09 515.71L225.43 516.38L226.76 517.05L228.09 517.74L229.41 518.43L230.73 519.14L232.04 519.86L233.34 520.59L234.64 521.33L235.93 522.09L237.22 522.85L238.49 523.63L239.76 524.42L241.03 525.22L242.29 526.03L243.54 526.85L244.78 527.68L246.02 528.53L247.26 529.38L248.48 530.25L249.7 531.13L250.91 532.02L252.12 532.92L253.32 533.83L254.51 534.76L255.7 535.69L256.88 536.64L258.05 537.6L259.22 538.57L260.38 539.55L261.53 540.54L262.68 541.54L263.82 542.56L264.95 543.59L266.08 544.62L267.2 545.67L268.32 546.74L269.42 547.81L270.52 548.9L271.62 549.99L272.7 551.1L273.78 552.22L274.86 553.36L275.92 554.5L276.98 555.66L278.04 556.83L279.08 558.01L280.12 559.2L281.16 560.41L282.18 561.63L283.2 562.86L284.21 564.1L285.22 565.35L286.22 566.62L287.21 567.9L288.2 569.19L289.17 570.49L290.14 571.8L291.11 573.13L292.07 574.47L293.02 575.82L293.96 577.18L294.9 578.55L295.83 579.94L296.75 581.34L297.66 582.75L298.57 584.17L299.47 585.6L300.37 587.04L301.26 588.5L302.14 589.96L303.01 591.44L303.88 592.93L304.74 594.43L305.59 595.94L306.43 597.46L307.27 598.99L308.1 600.53L308.92 602.08L309.74 603.63L310.55 605.2L311.35 606.78L312.14 608.37L312.93 609.97L313.71 611.57L314.48 613.18L315.25 614.8L316.01 616.43L316.76 618.07L317.5 619.71L318.24 621.36L318.96 623.02L319.69 624.68L320.4 626.35L321.1 628.03L321.8 629.71L322.49 631.39L323.18 633.09L323.85 634.78L324.52 636.48L325.18 638.18L325.83 639.89L326.48 641.6L327.12 643.31L327.75 645.02L328.37 646.74L328.99 648.45L329.59 650.17L330.19 651.89L330.78 653.61L331.37 655.33L331.94 657.04L332.51 658.76L333.07 660.48L333.62 662.19L334.16 663.9L334.7 665.61L335.23 667.32L335.75 669.02L336.26 670.72L336.76 672.42L337.26 674.11L337.75 675.79L338.23 677.47L338.7 679.15L339.16 680.81L339.61 682.48L340.06 684.13L340.5 685.78L340.92 687.41L341.35 689.04L341.76 690.67L342.16 692.28L342.56 693.88L342.94 695.47L343.32 697.06L343.69 698.63L344.05 700.19L344.4 701.74L344.74 703.27L345.07 704.79L345.4 706.3L345.71 707.8L346.02 709.28L346.31 710.75L346.6 712.2L346.88 713.64L347.14 715.06L347.4 716.46L347.65 717.85L347.89 719.22L348.12 720.56L348.34 721.89L348.55 723.2L348.75 724.49L348.94 725.75L349.11 726.99L349.28 728.2L349.44 729.39L349.58 730.55L349.72 731.68L349.84 732.77L349.95 733.83L350.05 734.85L350.14 735.83L350.21 736.75L350.27 737.62L350.32 738.41L350.35 739.1L350.36 739.59L400.05 739.59" stroke="#000000"/>
<path d="M77.25 476.96L78.05 476.96L79.56 476.97L81.07 476.99L82.57 477.03L84.06 477.08L85.56 477.14L87.04 477.21L88.53 477.28L90 477.37L91.48 477.47L92.95 477.57L94.41 477.69L95.87 477.81L97.32 477.94L98.77 478.08L100.22 478.22L101.66 478.38L103.09 478.54L104.52 478.7L105.95 478.88L107.37 479.06L108.79 479.25L110.2 479.44L111.61 479.64L113.01 479.85L114.41 480.06L115.8 480.28L117.19 480.51L118.57 480.74L119.95 480.98L121.32 481.23L122.69 481.48L124.05 481.73L125.41 482L126.77 482.27L128.12 482.54L129.46 482.82L130.8 483.11L132.14 483.4L133.47 483.7L134.79 484L136.11 484.31L137.43 484.63L138.74 484.95L140.05 485.27L141.35 485.61L142.64 485.95L143.94 486.29L145.22 486.64L146.5 487L147.78 487.36L149.05 487.73L150.32 488.1L151.58 488.48L152.84 488.87L154.09 489.26L155.34 489.66L156.58 490.06L157.82 490.47L159.05 490.89L160.28 491.31L161.5 491.74L162.72 492.18L163.94 492.62L165.14 493.07L166.35 493.53L167.55 493.99L168.74 494.46L169.93 494.93L171.11 495.42L172.29 495.91L173.46 496.4L174.63 496.91L175.79 497.42L176.95 497.94L178.11 498.47L179.26 499L180.4 499.54L181.54 500.09L182.67 500.65L183.8 501.21L184.92 501.79L186.04 502.37L187.15 502.96L188.26 503.56L189.37 504.16L190.46 504.78L191.56 505.4L192.64 506.03L193.73 506.68L194.81 507.33L195.88 507.98L196.95 508.65L198.01 509.33L199.07 510.02L200.12 510.72L201.17 511.42L202.21 512.14L203.24 512.86L204.28 513.6L205.3 514.34L206.32 515.1L207.34 515.87L208.35 516.64L209.36 517.43L210.36 518.23L211.35 519.03L212.34 519.85L213.33 520.68L214.31 521.52L215.28 522.37L216.25 523.24L217.22 524.11L218.18 525L219.13 525.89L220.08 526.8L221.02 527.72L221.96 528.65L222.9 529.59L223.82 530.54L224.75 531.51L225.66 532.49L226.57 533.48L227.48 534.48L228.38 535.49L229.28 536.52L230.17 537.55L231.05 538.6L231.93 539.67L232.81 540.74L233.68 541.83L234.54 542.93L235.4 544.04L236.25 545.16L237.1 546.3L237.94 547.45L238.78 548.61L239.61 549.78L240.43 550.97L241.25 552.16L242.07 553.37L242.88 554.6L243.68 555.83L244.48 557.08L245.27 558.34L246.06 559.61L246.84 560.9L247.62 562.2L248.39 563.51L249.16 564.83L249.92 566.16L250.67 567.51L251.42 568.87L252.16 570.24L252.9 571.62L253.63 573.02L254.36 574.42L255.08 575.84L255.79 577.27L256.5 578.71L257.21 580.17L257.91 581.63L258.6 583.11L259.29 584.59L259.97 586.09L260.64 587.6L261.31 589.12L261.98 590.65L262.63 592.19L263.29 593.75L263.93 595.31L264.57 596.88L265.21 598.46L265.84 600.06L266.46 601.66L267.08 603.27L267.69 604.89L268.3 606.52L268.9 608.16L269.49 609.81L270.08 611.47L270.66 613.13L271.24 614.81L271.81 616.49L272.37 618.18L272.93 619.88L273.48 621.58L274.03 623.29L274.57 625.01L275.1 626.74L275.63 628.47L276.15 630.21L276.67 631.95L277.18 633.7L277.68 635.46L278.18 637.22L278.67 638.98L279.16 640.75L279.64 642.53L280.11 644.3L280.58 646.09L281.04 647.87L281.49 649.66L281.94 651.45L282.38 653.24L282.81 655.04L283.24 656.83L283.66 658.63L284.08 660.43L284.49 662.23L284.89 664.03L285.29 665.83L285.68 667.63L286.06 669.43L286.44 671.23L286.81 673.02L287.17 674.82L287.53 676.61L287.88 678.39L288.22 680.18L288.55 681.96L288.88 683.74L289.21 685.51L289.52 687.27L289.83 689.03L290.13 690.78L290.43 692.53L290.71 694.27L291 696L291.27 697.72L291.53 699.43L291.79 701.13L292.04 702.82L292.29 704.5L292.53 706.17L292.76 707.82L292.98 709.46L293.19 711.09L293.4 712.7L293.6 714.29L293.79 715.87L293.97 717.43L294.15 718.96L294.31 720.48L294.47 721.97L294.62 723.44L294.77 724.88L294.9 726.3L295.03 727.69L295.14 729.04L295.25 730.36L295.35 731.64L295.44 732.88L295.52 734.08L295.59 735.22L295.64 736.3L295.69 737.31L295.73 738.23L295.75 739.03L295.76 739.59L400.05 739.59" stroke="#3873d0" stroke-dasharray="22.1 4.9"/>
<path d="M77.25 491.79L78.05 491.79L79.07 491.81L80.09 491.84L81.11 491.89L82.12 491.96L83.13 492.03L84.14 492.12L85.14 492.22L86.14 492.32L87.14 492.44L88.13 492.57L89.12 492.7L90.11 492.84L91.1 492.99L92.08 493.15L93.06 493.32L94.03 493.49L95 493.67L95.97 493.86L96.94 494.05L97.9 494.25L98.86 494.46L99.81 494.67L100.77 494.9L101.71 495.12L102.66 495.36L103.6 495.6L104.54 495.84L105.48 496.1L106.41 496.36L107.34 496.62L108.27 496.89L109.19 497.17L110.11 497.45L111.03 497.74L111.94 498.04L112.85 498.34L113.76 498.65L114.66 498.97L115.56 499.29L116.46 499.62L117.35 499.95L118.25 500.29L119.13 500.64L120.02 500.99L120.9 501.36L121.77 501.72L122.65 502.1L123.52 502.48L124.39 502.86L125.25 503.26L126.11 503.66L126.97 504.06L127.83 504.48L128.68 504.9L129.52 505.33L130.37 505.76L131.21 506.2L132.05 506.65L132.88 507.11L133.71 507.57L134.54 508.04L135.37 508.52L136.19 509.01L137.01 509.5L137.82 510L138.63 510.51L139.44 511.03L140.24 511.55L141.04 512.08L141.84 512.62L142.64 513.17L143.43 513.72L144.21 514.29L145 514.86L145.78 515.44L146.56 516.02L147.33 516.62L148.1 517.22L148.87 517.83L149.63 518.46L150.39 519.08L151.15 519.72L151.9 520.37L152.65 521.02L153.4 521.68L154.14 522.36L154.88 523.04L155.62 523.72L156.35 524.42L157.08 525.13L157.81 525.84L158.53 526.57L159.25 527.3L159.97 528.04L160.68 528.79L161.39 529.55L162.09 530.32L162.8 531.1L163.49 531.89L164.19 532.68L164.88 533.49L165.57 534.3L166.25 535.13L166.93 535.96L167.61 536.8L168.29 537.65L168.96 538.51L169.62 539.38L170.29 540.26L170.95 541.15L171.6 542.05L172.26 542.95L172.9 543.87L173.55 544.8L174.19 545.73L174.83 546.67L175.47 547.63L176.1 548.59L176.73 549.56L177.35 550.54L177.97 551.53L178.59 552.53L179.2 553.54L179.81 554.56L180.42 555.59L181.02 556.63L181.62 557.67L182.22 558.73L182.81 559.79L183.4 560.87L183.98 561.95L184.56 563.04L185.14 564.14L185.71 565.25L186.28 566.37L186.85 567.5L187.41 568.64L187.97 569.78L188.53 570.94L189.08 572.1L189.62 573.27L190.17 574.45L190.71 575.64L191.25 576.84L191.78 578.05L192.31 579.26L192.83 580.48L193.36 581.72L193.87 582.96L194.39 584.2L194.9 585.46L195.41 586.73L195.91 588L196.41 589.28L196.9 590.57L197.4 591.87L197.88 593.17L198.37 594.48L198.85 595.8L199.32 597.13L199.8 598.47L200.27 599.81L200.73 601.16L201.19 602.51L201.65 603.88L202.1 605.25L202.55 606.63L203 608.01L203.44 609.4L203.88 610.8L204.31 612.21L204.74 613.62L205.17 615.03L205.59 616.46L206.01 617.89L206.42 619.32L206.83 620.77L207.24 622.21L207.64 623.67L208.04 625.12L208.43 626.59L208.82 628.06L209.21 629.53L209.59 631.01L209.97 632.49L210.34 633.98L210.71 635.48L211.08 636.97L211.44 638.48L211.8 639.98L212.15 641.49L212.5 643.01L212.84 644.52L213.19 646.04L213.52 647.57L213.85 649.1L214.18 650.63L214.51 652.16L214.83 653.7L215.14 655.24L215.45 656.78L215.76 658.32L216.06 659.87L216.36 661.41L216.66 662.96L216.95 664.51L217.23 666.06L217.51 667.62L217.79 669.17L218.06 670.72L218.33 672.28L218.6 673.83L218.86 675.38L219.11 676.94L219.36 678.49L219.61 680.04L219.85 681.6L220.08 683.15L220.32 684.69L220.54 686.24L220.77 687.78L220.98 689.33L221.2 690.87L221.41 692.4L221.61 693.93L221.81 695.46L222.01 696.99L222.2 698.51L222.38 700.03L222.56 701.54L222.74 703.04L222.91 704.54L223.07 706.03L223.23 707.52L223.39 709L223.54 710.47L223.68 711.93L223.82 713.39L223.96 714.83L224.09 716.27L224.21 717.69L224.33 719.1L224.44 720.5L224.55 721.89L224.65 723.26L224.75 724.62L224.84 725.96L224.92 727.28L225 728.58L225.08 729.86L225.14 731.12L225.2 732.35L225.26 733.55L225.3 734.71L225.34 735.84L225.38 736.92L225.4 737.93L225.42 738.86L225.42 739.59L400.05 739.59" stroke="#74b000" stroke-dasharray="11 3.3"/>
<path d="M77.25 579.99L78.05 579.99L78.64 580L79.23 580.03L79.81 580.08L80.4 580.14L80.98 580.21L81.56 580.29L82.14 580.38L82.71 580.48L83.29 580.58L83.86 580.7L84.43 580.82L85 580.95L85.57 581.09L86.14 581.24L86.7 581.39L87.26 581.55L87.82 581.71L88.38 581.88L88.94 582.06L89.49 582.24L90.04 582.43L90.59 582.62L91.14 582.82L91.69 583.02L92.24 583.23L92.78 583.44L93.32 583.66L93.86 583.88L94.4 584.11L94.93 584.34L95.47 584.58L96 584.82L96.53 585.07L97.06 585.32L97.59 585.57L98.11 585.83L98.63 586.09L99.15 586.35L99.67 586.62L100.19 586.9L100.71 587.18L101.22 587.46L101.73 587.74L102.24 588.03L102.75 588.32L103.25 588.62L103.76 588.92L104.26 589.22L104.76 589.53L105.26 589.84L105.76 590.15L106.25 590.47L106.74 590.79L107.23 591.12L107.72 591.44L108.21 591.77L108.69 592.11L109.18 592.45L109.66 592.79L110.14 593.13L110.61 593.48L111.09 593.83L111.56 594.19L112.03 594.55L112.5 594.91L112.97 595.27L113.44 595.64L113.9 596.01L114.36 596.39L114.82 596.77L115.28 597.15L115.74 597.53L116.19 597.92L116.64 598.32L117.09 598.71L117.54 599.11L117.99 599.51L118.43 599.92L118.87 600.33L119.31 600.75L119.75 601.16L120.19 601.59L120.62 602.01L121.05 602.44L121.48 602.87L121.91 603.31L122.34 603.75L122.76 604.2L123.19 604.65L123.61 605.1L124.03 605.56L124.44 606.02L124.86 606.48L125.27 606.95L125.68 607.43L126.09 607.9L126.5 608.39L126.9 608.87L127.3 609.36L127.7 609.86L128.1 610.36L128.5 610.86L128.89 611.37L129.29 611.89L129.68 612.41L130.07 612.93L130.45 613.46L130.84 613.99L131.22 614.53L131.6 615.07L131.98 615.62L132.35 616.17L132.73 616.73L133.1 617.29L133.47 617.86L133.84 618.43L134.2 619.01L134.57 619.6L134.93 620.18L135.29 620.78L135.65 621.38L136 621.98L136.36 622.6L136.71 623.21L137.06 623.83L137.41 624.46L137.75 625.1L138.09 625.73L138.44 626.38L138.77 627.03L139.11 627.69L139.45 628.35L139.78 629.02L140.11 629.69L140.44 630.37L140.77 631.06L141.09 631.75L141.41 632.45L141.73 633.15L142.05 633.86L142.37 634.58L142.68 635.3L142.99 636.03L143.3 636.76L143.61 637.5L143.91 638.25L144.22 639L144.52 639.76L144.82 640.52L145.11 641.29L145.41 642.07L145.7 642.85L145.99 643.64L146.28 644.44L146.56 645.24L146.85 646.04L147.13 646.86L147.41 647.68L147.68 648.5L147.96 649.33L148.23 650.17L148.5 651.01L148.77 651.86L149.03 652.72L149.3 653.58L149.56 654.44L149.82 655.32L150.07 656.19L150.33 657.08L150.58 657.97L150.83 658.86L151.08 659.76L151.32 660.66L151.57 661.57L151.81 662.49L152.05 663.41L152.28 664.34L152.52 665.27L152.75 666.2L152.98 667.14L153.21 668.09L153.43 669.04L153.65 669.99L153.87 670.95L154.09 671.91L154.31 672.88L154.52 673.85L154.73 674.83L154.94 675.81L155.15 676.79L155.35 677.78L155.55 678.77L155.75 679.76L155.95 680.76L156.14 681.76L156.33 682.76L156.52 683.76L156.71 684.77L156.89 685.78L157.08 686.79L157.25 687.81L157.43 688.82L157.61 689.84L157.78 690.86L157.95 691.88L158.12 692.9L158.28 693.92L158.44 694.95L158.6 695.97L158.76 697L158.91 698.02L159.07 699.04L159.22 700.07L159.36 701.09L159.51 702.11L159.65 703.13L159.79 704.15L159.92 705.17L160.06 706.18L160.19 707.2L160.32 708.21L160.44 709.22L160.57 710.22L160.69 711.22L160.8 712.22L160.92 713.21L161.03 714.2L161.14 715.18L161.25 716.16L161.35 717.13L161.45 718.1L161.55 719.06L161.65 720.01L161.74 720.96L161.83 721.89L161.91 722.82L162 723.74L162.08 724.65L162.16 725.55L162.23 726.44L162.3 727.32L162.37 728.19L162.44 729.04L162.5 729.88L162.56 730.71L162.61 731.51L162.66 732.31L162.71 733.08L162.76 733.84L162.8 734.57L162.84 735.28L162.87 735.96L162.9 736.62L162.93 737.25L162.95 737.84L162.97 738.38L162.99 738.88L163 739.3L163 739.59L400.05 739.59" stroke="#7b3fbb" stroke-dasharray="3.4 4 10 4" stroke-dashoffset="2.65"/>
</g>
<path d="M96.9 746.55v-2.7M96.9 425.9v2.7M115.76 746.55v-2.7M115.76 425.9v2.7M134.61 746.55v-2.7M134.61 425.9v2.7M153.46 746.55v-2.7M153.46 425.9v2.7M172.31 746.55v-4.6M172.31 425.9v4.6M191.17 746.55v-2.7M191.17 425.9v2.7M210.02 746.55v-2.7M210.02 425.9v2.7M228.87 746.55v-2.7M228.87 425.9v2.7M247.73 746.55v-2.7M247.73 425.9v2.7M266.58 746.55v-4.6M266.58 425.9v4.6M285.43 746.55v-2.7M285.43 425.9v2.7M304.29 746.55v-2.7M304.29 425.9v2.7M323.14 746.55v-2.7M323.14 425.9v2.7M341.99 746.55v-2.7M341.99 425.9v2.7M360.84 746.55v-4.6M360.84 425.9v4.6M379.7 746.55v-2.7M379.7 425.9v2.7M78.05 732.9h5.4M398.55 732.9h-5.4M78.05 718.96h2.6M398.55 718.96h-2.6M78.05 705.03h2.6M398.55 705.03h-2.6M78.05 691.09h2.6M398.55 691.09h-2.6M78.05 677.16h5.4M398.55 677.16h-5.4M78.05 663.22h2.6M398.55 663.22h-2.6M78.05 649.29h2.6M398.55 649.29h-2.6M78.05 635.36h2.6M398.55 635.36h-2.6M78.05 621.42h5.4M398.55 621.42h-5.4M78.05 607.48h2.6M398.55 607.48h-2.6M78.05 593.55h2.6M398.55 593.55h-2.6M78.05 579.62h2.6M398.55 579.62h-2.6M78.05 565.68h5.4M398.55 565.68h-5.4M78.05 551.75h2.6M398.55 551.75h-2.6M78.05 537.81h2.6M398.55 537.81h-2.6M78.05 523.88h2.6M398.55 523.88h-2.6M78.05 509.94h5.4M398.55 509.94h-5.4M78.05 496h2.6M398.55 496h-2.6M78.05 482.07h2.6M398.55 482.07h-2.6M78.05 468.14h2.6M398.55 468.14h-2.6M78.05 454.2h5.4M398.55 454.2h-5.4M78.05 440.27h2.6M398.55 440.27h-2.6" fill="none" stroke="#000" stroke-width="1.25"/>
<g font-size="24" font-weight="bold">
<g transform="translate(78.05 772.85) scale(1 1.03)"><text x="-16.68 -3.34 3.34" y="0">0.0</text></g>
<g transform="translate(172.31 772.85) scale(1 1.03)"><text x="-16.68 -3.34 3.34" y="0">0.5</text></g>
<g transform="translate(266.58 772.85) scale(1 1.03)"><text x="-3.34 3.34" y="0">.0</text><path class="g1" vector-effect="non-scaling-stroke" transform="translate(-16.68 0) scale(24)" d="M.394 0H.254V-.471H.068V-.573C.17-.575.266-.61.285-.709H.394Z"/></g>
<g transform="translate(360.84 772.85) scale(1 1.03)"><text x="-3.34 3.34" y="0">.5</text><path class="g1" vector-effect="non-scaling-stroke" transform="translate(-16.68 0) scale(24)" d="M.394 0H.254V-.471H.068V-.573C.17-.575.266-.61.285-.709H.394Z"/></g>
<g transform="translate(75.65 741.55) scale(1 1.03)"><text x="-20.02 -13.34" y="0">.2</text><path class="g1" vector-effect="non-scaling-stroke" transform="translate(-33.36 0) scale(24)" d="M.394 0H.254V-.471H.068V-.573C.17-.575.266-.61.285-.709H.394Z"/></g>
<g transform="translate(75.65 685.81) scale(1 1.03)"><text x="-20.02 -13.34" y="0">.4</text><path class="g1" vector-effect="non-scaling-stroke" transform="translate(-33.36 0) scale(24)" d="M.394 0H.254V-.471H.068V-.573C.17-.575.266-.61.285-.709H.394Z"/></g>
<g transform="translate(75.65 630.07) scale(1 1.03)"><text x="-20.02 -13.34" y="0">.6</text><path class="g1" vector-effect="non-scaling-stroke" transform="translate(-33.36 0) scale(24)" d="M.394 0H.254V-.471H.068V-.573C.17-.575.266-.61.285-.709H.394Z"/></g>
<g transform="translate(75.65 574.33) scale(1 1.03)"><text x="-20.02 -13.34" y="0">.8</text><path class="g1" vector-effect="non-scaling-stroke" transform="translate(-33.36 0) scale(24)" d="M.394 0H.254V-.471H.068V-.573C.17-.575.266-.61.285-.709H.394Z"/></g>
<g transform="translate(75.65 518.59) scale(1 1.03)"><text x="-33.36 -20.02 -13.34" y="0">2.0</text></g>
<g transform="translate(75.65 462.85) scale(1 1.03)"><text x="-33.36 -20.02 -13.34" y="0">2.2</text></g>
</g>
<g font-size="26.3" font-weight="bold">
<text transform="translate(97.15 458.15) scale(1 1.03)">(c)</text>
<text transform="translate(143.55 458.15) scale(1 1.03)" letter-spacing="-0.3">n=0.8</text>
</g>
<text transform="translate(29.55 586.22) rotate(-90) scale(1 1.02)" text-anchor="middle" font-size="23.7" font-weight="bold"><tspan font-style="italic">v</tspan><tspan font-style="italic" font-size="17.5" dy="4.4">c</tspan><tspan dy="-4.4"> (ta</tspan><tspan font-size="17.5" dy="4.4">0</tspan><tspan dy="-4.4">)</tspan></text>
<text transform="translate(238.3 807.95) scale(1 1.01)" text-anchor="middle" font-size="24.35" font-weight="bold">H (t/<tspan font-style="italic" dx="1.2">&#956;</tspan><tspan font-style="italic" font-size="17.5" dy="4.4">B</tspan><tspan dy="-4.4">)</tspan></text>
</g>
<g>
<path d="M592.98 746.5V425.95M687.26 746.5V425.95M781.54 746.5V425.95" fill="none" stroke="#303030" stroke-width="1.1" stroke-dasharray="2 2" stroke-dashoffset="-0.5"/>
<path d="M498.7 665.34H819.25M498.7 585.67H819.25M498.7 506.01H819.25" fill="none" stroke="#303030" stroke-width="1.1" stroke-dasharray="2 2" stroke-dashoffset="-0.4"/>
<rect x="498.7" y="425.95" width="320.55" height="320.55" fill="none" stroke="#000" stroke-width="1.4"/>
<clipPath id="cpd"><rect x="497.9" y="425.95" width="322.25" height="320.55"/></clipPath>
<g clip-path="url(#cpd)" fill="none" stroke-width="3.0" stroke-linejoin="round">
<path d="M497.9 469.32L498.7 469.32L500.6 469.33L502.48 469.36L504.37 469.41L506.25 469.48L508.12 469.57L509.98 469.68L511.84 469.82L513.7 469.98L515.54 470.17L517.39 470.38L519.22 470.61L521.05 470.87L522.88 471.15L524.7 471.46L526.51 471.79L528.32 472.14L530.12 472.52L531.91 472.92L533.7 473.34L535.48 473.78L537.26 474.25L539.03 474.73L540.8 475.24L542.55 475.77L544.31 476.32L546.05 476.9L547.8 477.49L549.53 478.1L551.26 478.72L552.98 479.37L554.7 480.04L556.41 480.72L558.12 481.42L559.81 482.14L561.51 482.87L563.19 483.62L564.87 484.39L566.55 485.16L568.22 485.96L569.88 486.77L571.54 487.59L573.19 488.42L574.83 489.27L576.47 490.13L578.1 491L579.73 491.88L581.35 492.78L582.96 493.68L584.57 494.59L586.17 495.52L587.77 496.45L589.36 497.39L590.94 498.34L592.52 499.3L594.09 500.27L595.66 501.24L597.22 502.22L598.77 503.21L600.31 504.2L601.85 505.2L603.39 506.21L604.92 507.22L606.44 508.24L607.95 509.26L609.46 510.29L610.97 511.32L612.46 512.35L613.95 513.39L615.44 514.44L616.92 515.49L618.39 516.54L619.86 517.59L621.31 518.65L622.77 519.71L624.21 520.77L625.66 521.84L627.09 522.91L628.52 523.98L629.94 525.06L631.36 526.13L632.76 527.21L634.17 528.3L635.56 529.38L636.95 530.47L638.34 531.56L639.72 532.65L641.09 533.75L642.45 534.84L643.81 535.94L645.16 537.04L646.51 538.15L647.85 539.25L649.18 540.36L650.51 541.48L651.83 542.59L653.14 543.71L654.45 544.83L655.75 545.96L657.04 547.08L658.33 548.21L659.61 549.35L660.89 550.48L662.16 551.63L663.42 552.77L664.67 553.92L665.92 555.07L667.16 556.23L668.4 557.39L669.63 558.56L670.85 559.73L672.07 560.9L673.28 562.08L674.48 563.27L675.68 564.46L676.87 565.66L678.05 566.86L679.23 568.06L680.4 569.28L681.56 570.5L682.72 571.72L683.87 572.95L685.01 574.19L686.15 575.43L687.28 576.68L688.41 577.94L689.52 579.21L690.63 580.48L691.74 581.76L692.83 583.04L693.92 584.33L695.01 585.64L696.08 586.94L697.15 588.26L698.22 589.58L699.27 590.91L700.32 592.25L701.36 593.6L702.4 594.95L703.43 596.32L704.45 597.69L705.47 599.07L706.48 600.45L707.48 601.85L708.47 603.25L709.46 604.66L710.44 606.08L711.42 607.51L712.38 608.94L713.34 610.38L714.3 611.83L715.24 613.29L716.18 614.76L717.11 616.23L718.04 617.71L718.96 619.2L719.87 620.69L720.77 622.2L721.67 623.71L722.56 625.22L723.44 626.74L724.32 628.27L725.19 629.81L726.05 631.35L726.9 632.9L727.75 634.45L728.59 636.01L729.42 637.57L730.25 639.14L731.07 640.71L731.88 642.29L732.68 643.87L733.48 645.45L734.27 647.04L735.05 648.63L735.83 650.22L736.59 651.82L737.35 653.42L738.11 655.02L738.85 656.62L739.59 658.22L740.32 659.83L741.04 661.43L741.76 663.03L742.47 664.63L743.17 666.23L743.86 667.83L744.54 669.43L745.22 671.03L745.89 672.62L746.55 674.21L747.21 675.79L747.86 677.37L748.5 678.95L749.13 680.52L749.75 682.09L750.37 683.65L750.98 685.2L751.58 686.74L752.17 688.28L752.76 689.81L753.33 691.33L753.9 692.84L754.47 694.34L755.02 695.83L755.56 697.31L756.1 698.77L756.63 700.23L757.15 701.67L757.67 703.1L758.17 704.52L758.67 705.92L759.16 707.3L759.64 708.67L760.11 710.03L760.57 711.36L761.03 712.68L761.48 713.98L761.91 715.27L762.34 716.53L762.77 717.78L763.18 719L763.58 720.21L763.98 721.39L764.37 722.55L764.74 723.69L765.11 724.8L765.47 725.89L765.83 726.96L766.17 728L766.5 729.02L766.83 730.01L767.14 730.98L767.45 731.92L767.75 732.83L768.03 733.71L768.31 734.56L768.58 735.39L768.84 736.18L769.09 736.95L769.33 737.68L769.56 738.38L769.78 739.05L769.99 739.69L770.19 740.3L770.38 740.87L770.56 741.41L770.72 741.91L770.88 742.38L771.03 742.81L771.16 743.2L771.29 743.56L771.4 743.88L771.5 744.17L771.58 744.41L771.66 744.61L771.72 744.78L771.77 744.9L771.8 744.97L771.81 745L820.75 745" stroke="#000000"/>
<path d="M497.9 495.45L498.7 495.45L500.21 495.49L501.72 495.56L503.22 495.66L504.72 495.79L506.22 495.95L507.7 496.12L509.19 496.32L510.67 496.53L512.14 496.76L513.61 497L515.08 497.26L516.54 497.54L518 497.83L519.45 498.13L520.89 498.45L522.34 498.77L523.77 499.11L525.21 499.47L526.63 499.83L528.06 500.21L529.47 500.59L530.89 500.99L532.3 501.39L533.7 501.81L535.1 502.24L536.49 502.67L537.88 503.12L539.27 503.57L540.65 504.04L542.02 504.51L543.39 504.99L544.76 505.49L546.12 505.99L547.48 506.49L548.83 507.01L550.17 507.54L551.52 508.07L552.85 508.61L554.18 509.16L555.51 509.72L556.83 510.28L558.15 510.86L559.46 511.44L560.77 512.03L562.07 512.62L563.37 513.23L564.66 513.84L565.95 514.46L567.24 515.09L568.51 515.72L569.79 516.36L571.06 517.01L572.32 517.67L573.58 518.33L574.83 519L576.08 519.68L577.33 520.37L578.57 521.06L579.8 521.76L581.03 522.47L582.25 523.18L583.47 523.91L584.69 524.63L585.9 525.37L587.1 526.11L588.3 526.87L589.5 527.62L590.69 528.39L591.87 529.16L593.05 529.94L594.23 530.73L595.4 531.52L596.56 532.32L597.72 533.13L598.88 533.95L600.03 534.77L601.17 535.6L602.31 536.43L603.45 537.28L604.58 538.13L605.7 538.99L606.82 539.85L607.93 540.73L609.04 541.6L610.15 542.49L611.25 543.39L612.34 544.29L613.43 545.2L614.52 546.11L615.59 547.03L616.67 547.96L617.74 548.9L618.8 549.84L619.86 550.79L620.91 551.75L621.96 552.72L623.01 553.69L624.04 554.67L625.08 555.66L626.1 556.65L627.13 557.65L628.15 558.66L629.16 559.68L630.16 560.7L631.17 561.73L632.16 562.76L633.16 563.81L634.14 564.86L635.12 565.91L636.1 566.98L637.07 568.05L638.04 569.13L639 570.21L639.95 571.31L640.9 572.4L641.84 573.51L642.78 574.62L643.72 575.74L644.65 576.87L645.57 578L646.49 579.14L647.4 580.29L648.31 581.44L649.21 582.6L650.11 583.77L651 584.94L651.89 586.12L652.77 587.3L653.64 588.49L654.51 589.69L655.38 590.9L656.24 592.11L657.09 593.32L657.94 594.54L658.78 595.77L659.62 597.01L660.45 598.25L661.28 599.49L662.1 600.75L662.92 602L663.73 603.27L664.53 604.54L665.33 605.81L666.12 607.09L666.91 608.37L667.7 609.66L668.47 610.96L669.24 612.26L670.01 613.57L670.77 614.88L671.53 616.19L672.28 617.51L673.02 618.83L673.76 620.16L674.49 621.5L675.22 622.83L675.94 624.17L676.66 625.52L677.37 626.87L678.07 628.22L678.77 629.58L679.46 630.94L680.15 632.3L680.83 633.67L681.51 635.04L682.18 636.41L682.85 637.79L683.5 639.16L684.16 640.55L684.81 641.93L685.45 643.31L686.08 644.7L686.71 646.09L687.34 647.48L687.96 648.88L688.57 650.27L689.17 651.67L689.77 653.07L690.37 654.46L690.96 655.86L691.54 657.26L692.12 658.66L692.69 660.06L693.25 661.46L693.81 662.86L694.37 664.26L694.91 665.66L695.45 667.06L695.99 668.46L696.52 669.86L697.04 671.25L697.56 672.65L698.07 674.04L698.57 675.43L699.07 676.82L699.56 678.2L700.05 679.58L700.53 680.96L701 682.34L701.47 683.71L701.93 685.08L702.38 686.45L702.83 687.81L703.27 689.17L703.71 690.52L704.14 691.86L704.56 693.21L704.98 694.54L705.39 695.87L705.79 697.2L706.19 698.51L706.58 699.83L706.96 701.13L707.34 702.43L707.71 703.72L708.07 705L708.43 706.27L708.78 707.53L709.12 708.79L709.46 710.03L709.79 711.27L710.11 712.49L710.43 713.71L710.73 714.91L711.04 716.11L711.33 717.29L711.62 718.46L711.9 719.61L712.17 720.75L712.44 721.88L712.7 723L712.95 724.1L713.2 725.19L713.43 726.26L713.66 727.31L713.88 728.35L714.1 729.37L714.31 730.37L714.5 731.35L714.7 732.31L714.88 733.25L715.05 734.18L715.22 735.07L715.38 735.95L715.53 736.8L715.68 737.63L715.81 738.43L715.93 739.2L716.05 739.94L716.16 740.66L716.26 741.33L716.35 741.97L716.43 742.58L716.5 743.14L716.55 743.65L716.6 744.11L716.64 744.5L716.66 744.82L716.67 745L820.75 745" stroke="#3873d0" stroke-dasharray="22.1 4.9"/>
<path d="M497.9 546.07L498.7 546.07L499.73 546.14L500.75 546.26L501.77 546.41L502.79 546.58L503.81 546.76L504.82 546.97L505.83 547.18L506.83 547.41L507.84 547.65L508.84 547.9L509.83 548.16L510.82 548.42L511.81 548.7L512.8 548.98L513.78 549.26L514.76 549.56L515.74 549.85L516.71 550.16L517.68 550.47L518.65 550.78L519.61 551.1L520.57 551.43L521.53 551.76L522.49 552.09L523.44 552.43L524.38 552.77L525.33 553.12L526.27 553.47L527.21 553.83L528.14 554.19L529.07 554.55L530 554.92L530.93 555.29L531.85 555.67L532.77 556.05L533.68 556.44L534.59 556.83L535.5 557.22L536.41 557.62L537.31 558.02L538.21 558.43L539.1 558.84L539.99 559.26L540.88 559.68L541.77 560.1L542.65 560.53L543.53 560.97L544.4 561.41L545.28 561.85L546.15 562.3L547.01 562.75L547.87 563.21L548.73 563.67L549.59 564.14L550.44 564.61L551.29 565.09L552.13 565.57L552.98 566.06L553.81 566.55L554.65 567.05L555.48 567.56L556.31 568.07L557.14 568.58L557.96 569.1L558.78 569.63L559.59 570.16L560.4 570.7L561.21 571.24L562.02 571.79L562.82 572.34L563.62 572.9L564.41 573.47L565.21 574.04L565.99 574.62L566.78 575.2L567.56 575.79L568.34 576.38L569.11 576.99L569.88 577.59L570.65 578.21L571.42 578.83L572.18 579.45L572.93 580.08L573.69 580.72L574.44 581.36L575.19 582.01L575.93 582.67L576.67 583.33L577.41 584L578.14 584.67L578.87 585.35L579.6 586.04L580.32 586.73L581.04 587.43L581.75 588.14L582.47 588.85L583.18 589.57L583.88 590.29L584.58 591.02L585.28 591.76L585.98 592.5L586.67 593.25L587.36 594L588.04 594.76L588.72 595.52L589.4 596.3L590.07 597.07L590.74 597.86L591.41 598.65L592.07 599.44L592.73 600.24L593.39 601.05L594.04 601.86L594.69 602.68L595.34 603.5L595.98 604.33L596.62 605.17L597.25 606.01L597.88 606.85L598.51 607.7L599.13 608.56L599.76 609.42L600.37 610.29L600.98 611.16L601.59 612.04L602.2 612.92L602.8 613.8L603.4 614.7L604 615.59L604.59 616.49L605.17 617.4L605.76 618.31L606.34 619.23L606.92 620.15L607.49 621.07L608.06 622L608.62 622.93L609.19 623.87L609.74 624.81L610.3 625.76L610.85 626.71L611.4 627.66L611.94 628.62L612.48 629.58L613.01 630.54L613.55 631.51L614.08 632.48L614.6 633.46L615.12 634.44L615.64 635.42L616.15 636.4L616.66 637.39L617.17 638.38L617.67 639.38L618.17 640.38L618.66 641.38L619.15 642.38L619.64 643.39L620.12 644.39L620.6 645.41L621.07 646.42L621.54 647.43L622.01 648.45L622.48 649.47L622.94 650.49L623.39 651.52L623.84 652.54L624.29 653.57L624.73 654.6L625.17 655.63L625.61 656.67L626.04 657.7L626.47 658.74L626.89 659.78L627.31 660.81L627.73 661.85L628.14 662.9L628.55 663.94L628.96 664.98L629.36 666.02L629.75 667.07L630.14 668.12L630.53 669.16L630.92 670.21L631.3 671.26L631.67 672.3L632.04 673.35L632.41 674.4L632.78 675.45L633.13 676.5L633.49 677.55L633.84 678.6L634.19 679.65L634.53 680.7L634.87 681.75L635.2 682.8L635.53 683.84L635.86 684.89L636.18 685.94L636.5 686.99L636.81 688.03L637.12 689.08L637.42 690.13L637.73 691.17L638.02 692.21L638.31 693.26L638.6 694.3L638.88 695.34L639.16 696.38L639.43 697.42L639.7 698.46L639.97 699.49L640.23 700.53L640.49 701.56L640.74 702.59L640.98 703.62L641.23 704.65L641.46 705.68L641.7 706.71L641.93 707.73L642.15 708.75L642.37 709.77L642.59 710.79L642.8 711.81L643 712.82L643.2 713.84L643.4 714.85L643.59 715.86L643.77 716.86L643.95 717.86L644.13 718.87L644.3 719.86L644.47 720.86L644.63 721.85L644.78 722.84L644.94 723.83L645.08 724.81L645.22 725.79L645.36 726.77L645.49 727.74L645.61 728.71L645.73 729.68L645.85 730.64L645.95 731.6L646.06 732.55L646.15 733.5L646.24 734.44L646.33 735.38L646.41 736.31L646.48 737.24L646.55 738.16L646.61 739.07L646.66 739.97L646.71 740.86L646.75 741.74L646.78 742.6L646.81 743.44L646.83 744.26L646.83 745L820.75 745" stroke="#74b000" stroke-dasharray="11 3.3"/>
<path d="M497.9 615.81L498.7 615.81L499.29 615.82L499.88 615.86L500.46 615.91L501.05 615.98L501.63 616.06L502.21 616.15L502.79 616.25L503.37 616.36L503.94 616.48L504.52 616.6L505.09 616.74L505.66 616.88L506.23 617.03L506.79 617.19L507.36 617.36L507.92 617.53L508.48 617.71L509.04 617.89L509.6 618.09L510.15 618.28L510.71 618.49L511.26 618.7L511.81 618.91L512.36 619.13L512.9 619.36L513.45 619.59L513.99 619.82L514.53 620.06L515.07 620.31L515.6 620.56L516.14 620.81L516.67 621.07L517.2 621.34L517.73 621.6L518.26 621.88L518.78 622.15L519.31 622.43L519.83 622.72L520.35 623.01L520.86 623.3L521.38 623.59L521.89 623.89L522.41 624.2L522.92 624.51L523.42 624.82L523.93 625.13L524.44 625.45L524.94 625.77L525.44 626.09L525.94 626.42L526.43 626.75L526.93 627.09L527.42 627.43L527.91 627.77L528.4 628.11L528.89 628.46L529.38 628.81L529.86 629.16L530.34 629.52L530.82 629.88L531.3 630.24L531.77 630.61L532.25 630.98L532.72 631.35L533.19 631.72L533.66 632.1L534.12 632.48L534.59 632.86L535.05 633.25L535.51 633.64L535.97 634.03L536.43 634.42L536.88 634.82L537.33 635.22L537.78 635.62L538.23 636.03L538.68 636.44L539.12 636.85L539.57 637.26L540.01 637.68L540.44 638.1L540.88 638.52L541.32 638.94L541.75 639.37L542.18 639.8L542.61 640.23L543.04 640.67L543.46 641.1L543.88 641.54L544.31 641.99L544.72 642.43L545.14 642.88L545.56 643.33L545.97 643.79L546.38 644.25L546.79 644.7L547.2 645.17L547.6 645.63L548 646.1L548.41 646.57L548.8 647.05L549.2 647.52L549.6 648L549.99 648.48L550.38 648.97L550.77 649.46L551.16 649.95L551.54 650.44L551.92 650.94L552.3 651.44L552.68 651.94L553.06 652.44L553.43 652.95L553.81 653.46L554.18 653.98L554.55 654.49L554.91 655.01L555.28 655.54L555.64 656.06L556 656.59L556.36 657.12L556.71 657.66L557.07 658.2L557.42 658.74L557.77 659.28L558.12 659.83L558.46 660.38L558.81 660.93L559.15 661.49L559.49 662.05L559.83 662.61L560.16 663.17L560.49 663.74L560.82 664.32L561.15 664.89L561.48 665.47L561.81 666.05L562.13 666.63L562.45 667.22L562.77 667.81L563.08 668.4L563.4 669L563.71 669.6L564.02 670.2L564.33 670.81L564.63 671.42L564.93 672.03L565.24 672.64L565.54 673.26L565.83 673.88L566.13 674.51L566.42 675.13L566.71 675.76L567 676.4L567.28 677.03L567.57 677.67L567.85 678.31L568.13 678.96L568.41 679.6L568.68 680.25L568.95 680.91L569.22 681.56L569.49 682.22L569.76 682.88L570.02 683.55L570.28 684.22L570.54 684.88L570.8 685.56L571.05 686.23L571.31 686.91L571.56 687.59L571.81 688.27L572.05 688.95L572.29 689.64L572.54 690.33L572.77 691.02L573.01 691.72L573.25 692.41L573.48 693.11L573.71 693.81L573.93 694.51L574.16 695.21L574.38 695.92L574.6 696.63L574.82 697.34L575.04 698.05L575.25 698.76L575.46 699.47L575.67 700.19L575.88 700.91L576.08 701.62L576.28 702.34L576.48 703.06L576.68 703.78L576.87 704.51L577.06 705.23L577.25 705.95L577.44 706.68L577.63 707.4L577.81 708.13L577.99 708.85L578.16 709.58L578.34 710.3L578.51 711.03L578.68 711.76L578.85 712.48L579.01 713.21L579.18 713.93L579.34 714.66L579.49 715.38L579.65 716.1L579.8 716.82L579.95 717.54L580.1 718.26L580.24 718.98L580.38 719.7L580.52 720.41L580.66 721.12L580.79 721.83L580.92 722.54L581.05 723.25L581.18 723.95L581.3 724.65L581.42 725.35L581.54 726.04L581.66 726.73L581.77 727.42L581.88 728.1L581.98 728.78L582.09 729.45L582.19 730.12L582.29 730.79L582.38 731.45L582.48 732.1L582.56 732.75L582.65 733.39L582.74 734.03L582.82 734.66L582.89 735.28L582.97 735.89L583.04 736.5L583.11 737.1L583.17 737.69L583.24 738.27L583.29 738.84L583.35 739.39L583.4 739.94L583.45 740.48L583.5 741L583.54 741.51L583.58 742L583.61 742.47L583.64 742.93L583.67 743.36L583.69 743.77L583.71 744.15L583.73 744.5L583.74 744.79L583.74 745L820.75 745" stroke="#7b3fbb" stroke-dasharray="3.4 4 10 4" stroke-dashoffset="1.8"/>
</g>
<path d="M517.56 746.5v-2.7M517.56 425.95v2.7M536.41 746.5v-2.7M536.41 425.95v2.7M555.27 746.5v-2.7M555.27 425.95v2.7M574.12 746.5v-2.7M574.12 425.95v2.7M592.98 746.5v-4.6M592.98 425.95v4.6M611.84 746.5v-2.7M611.84 425.95v2.7M630.69 746.5v-2.7M630.69 425.95v2.7M649.55 746.5v-2.7M649.55 425.95v2.7M668.4 746.5v-2.7M668.4 425.95v2.7M687.26 746.5v-4.6M687.26 425.95v4.6M706.11 746.5v-2.7M706.11 425.95v2.7M724.97 746.5v-2.7M724.97 425.95v2.7M743.83 746.5v-2.7M743.83 425.95v2.7M762.68 746.5v-2.7M762.68 425.95v2.7M781.54 746.5v-4.6M781.54 425.95v4.6M800.39 746.5v-2.7M800.39 425.95v2.7M498.7 745h5.4M819.25 745h-5.4M498.7 729.07h2.6M819.25 729.07h-2.6M498.7 713.13h2.6M819.25 713.13h-2.6M498.7 697.2h2.6M819.25 697.2h-2.6M498.7 681.27h2.6M819.25 681.27h-2.6M498.7 665.34h5.4M819.25 665.34h-5.4M498.7 649.4h2.6M819.25 649.4h-2.6M498.7 633.47h2.6M819.25 633.47h-2.6M498.7 617.54h2.6M819.25 617.54h-2.6M498.7 601.61h2.6M819.25 601.61h-2.6M498.7 585.67h5.4M819.25 585.67h-5.4M498.7 569.74h2.6M819.25 569.74h-2.6M498.7 553.81h2.6M819.25 553.81h-2.6M498.7 537.88h2.6M819.25 537.88h-2.6M498.7 521.94h2.6M819.25 521.94h-2.6M498.7 506.01h5.4M819.25 506.01h-5.4M498.7 490.08h2.6M819.25 490.08h-2.6M498.7 474.15h2.6M819.25 474.15h-2.6M498.7 458.22h2.6M819.25 458.22h-2.6M498.7 442.28h2.6M819.25 442.28h-2.6" fill="none" stroke="#000" stroke-width="1.25"/>
<g font-size="24" font-weight="bold">
<g transform="translate(498.7 772.8) scale(1 1.03)"><text x="-16.68 -3.34 3.34" y="0">0.0</text></g>
<g transform="translate(592.98 772.8) scale(1 1.03)"><text x="-16.68 -3.34 3.34" y="0">0.5</text></g>
<g transform="translate(687.26 772.8) scale(1 1.03)"><text x="-3.34 3.34" y="0">.0</text><path class="g1" vector-effect="non-scaling-stroke" transform="translate(-16.68 0) scale(24)" d="M.394 0H.254V-.471H.068V-.573C.17-.575.266-.61.285-.709H.394Z"/></g>
<g transform="translate(781.54 772.8) scale(1 1.03)"><text x="-3.34 3.34" y="0">.5</text><path class="g1" vector-effect="non-scaling-stroke" transform="translate(-16.68 0) scale(24)" d="M.394 0H.254V-.471H.068V-.573C.17-.575.266-.61.285-.709H.394Z"/></g>
<g transform="translate(496.3 753.65) scale(1 1.03)"><text x="-33.36 -20.02 -13.34" y="0">0.0</text></g>
<g transform="translate(496.3 673.99) scale(1 1.03)"><text x="-33.36 -20.02 -13.34" y="0">0.5</text></g>
<g transform="translate(496.3 594.32) scale(1 1.03)"><text x="-20.02 -13.34" y="0">.0</text><path class="g1" vector-effect="non-scaling-stroke" transform="translate(-33.36 0) scale(24)" d="M.394 0H.254V-.471H.068V-.573C.17-.575.266-.61.285-.709H.394Z"/></g>
<g transform="translate(496.3 514.66) scale(1 1.03)"><text x="-20.02 -13.34" y="0">.5</text><path class="g1" vector-effect="non-scaling-stroke" transform="translate(-33.36 0) scale(24)" d="M.394 0H.254V-.471H.068V-.573C.17-.575.266-.61.285-.709H.394Z"/></g>
<g transform="translate(496.3 435) scale(1 1.03)"><text x="-33.36 -20.02 -13.34" y="0">2.0</text></g>
</g>
<g font-size="26.3" font-weight="bold">
<text transform="translate(516.6 458.2) scale(1 1.03)">(d)</text>
<text transform="translate(564.5 458.2) scale(1 1.03)" letter-spacing="-0.3">n=0.8</text>
</g>
<text transform="translate(450.2 586.23) rotate(-90) scale(1 1.02)" text-anchor="middle" font-size="23.7" font-weight="bold"><tspan font-style="italic">v</tspan><tspan font-style="italic" font-size="17.5" dy="4.4">s</tspan><tspan dy="-4.4"> (ta</tspan><tspan font-size="17.5" dy="4.4">0</tspan><tspan dy="-4.4">)</tspan></text>
<text transform="translate(658.98 807.9) scale(1 1.01)" text-anchor="middle" font-size="24.35" font-weight="bold">H (t/<tspan font-style="italic" dx="1.2">&#956;</tspan><tspan font-style="italic" font-size="17.5" dy="4.4">B</tspan><tspan dy="-4.4">)</tspan></text>
</g>
<g>
<path d="M706.3 110.7H745.7" fill="none" stroke="#000000" stroke-width="3.0"/>
<text transform="translate(757.7 118) scale(1 1.06)" font-size="20.7" font-weight="bold">U=t</text>
<path d="M706.3 147.2H745.7" fill="none" stroke="#3873d0" stroke-width="3.0" stroke-dasharray="22.1 4.9"/>
<text transform="translate(757.7 154.5) scale(1 1.06)" font-size="20.7" font-weight="bold">U=2t</text>
<path d="M706.3 183.5H745.7" fill="none" stroke="#74b000" stroke-width="3.0" stroke-dasharray="11 3.3"/>
<text transform="translate(757.7 190.8) scale(1 1.06)" font-size="20.7" font-weight="bold">U=4t</text>
<path d="M706.3 219.6H745.7" fill="none" stroke="#7b3fbb" stroke-width="3.0" stroke-dasharray="3.4 4 10 4"/>
<text transform="translate(757.7 226.9) scale(1 1.06)" font-size="20.7" font-weight="bold">U=8t</text>
</g>
</g>
</svg>
</body></html>
